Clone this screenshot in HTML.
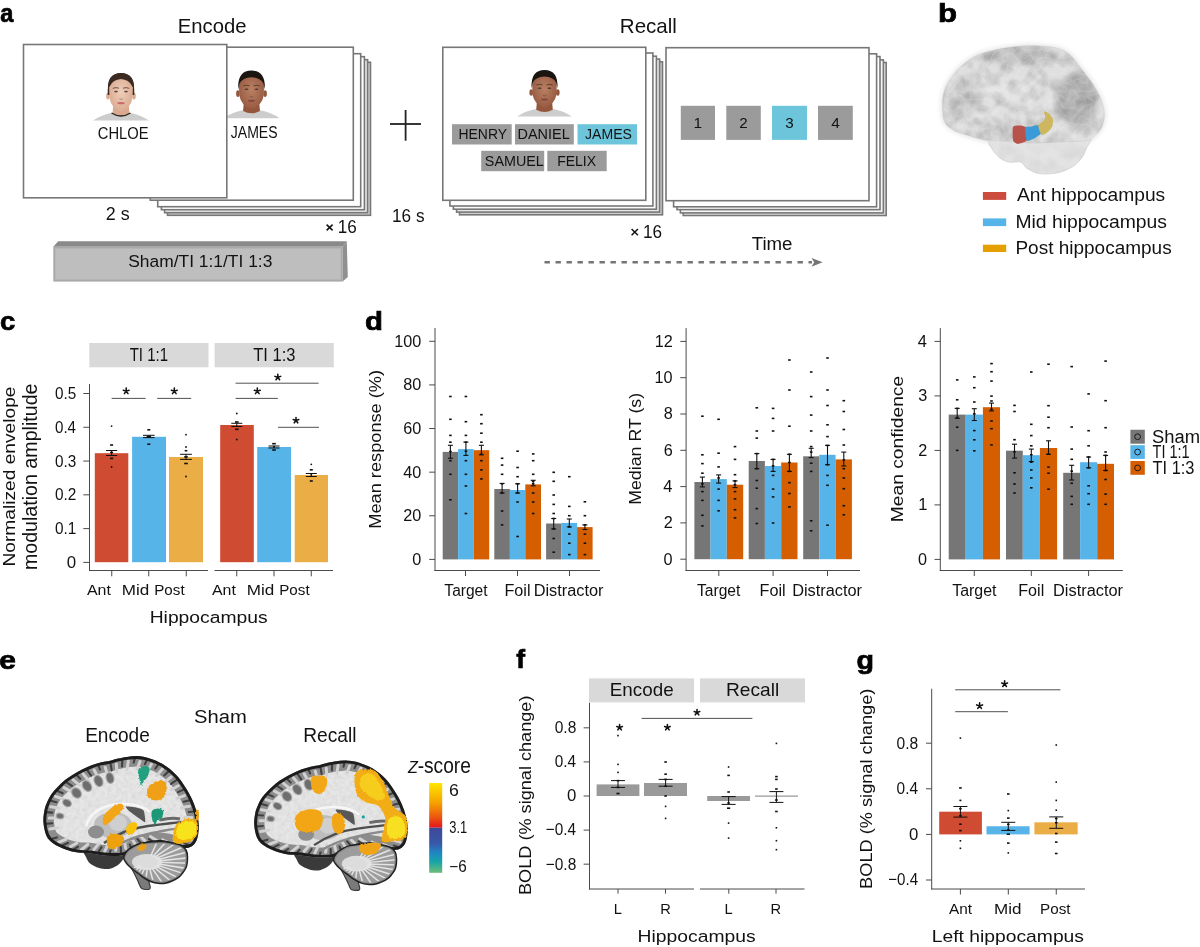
<!DOCTYPE html>
<html><head><meta charset="utf-8"><style>
html,body{margin:0;padding:0;background:#fff;width:1200px;height:947px;overflow:hidden}
svg{display:block;will-change:transform}
text{font-family:"Liberation Sans",sans-serif}
</style></head><body>
<svg width="1200" height="947" viewBox="0 0 1200 947">
<text x="0.26" y="21.85" font-size="25.80" font-weight="bold" font-style="normal" fill="#000" textLength="13.14" lengthAdjust="spacingAndGlyphs" stroke="#000" stroke-width="0.7">a</text>
<text x="177.74" y="33.00" font-size="20.49" font-weight="normal" font-style="normal" fill="#121212" textLength="68.76" lengthAdjust="spacingAndGlyphs">Encode</text>
<text x="619.82" y="33.00" font-size="20.06" font-weight="normal" font-style="normal" fill="#121212" textLength="57.06" lengthAdjust="spacingAndGlyphs">Recall</text>
<rect x="167.50" y="62.30" width="203.00" height="153.00" fill="#d2d2d2" stroke="#777" stroke-width="1.6"/>
<rect x="164.60" y="59.70" width="203.00" height="153.00" fill="#e8e8e8" stroke="#777" stroke-width="1.6"/>
<rect x="161.40" y="56.70" width="203.00" height="153.00" fill="#fff" stroke="#777" stroke-width="1.6"/>
<rect x="157.70" y="53.70" width="203.00" height="153.00" fill="#fff" stroke="#777" stroke-width="1.6"/>
<rect x="150.30" y="47.20" width="203.00" height="153.00" fill="#fff" stroke="#777" stroke-width="1.6"/>
<rect x="459.50" y="61.80" width="203.00" height="153.00" fill="#cfcfcf" stroke="#777" stroke-width="1.6"/>
<rect x="456.60" y="59.10" width="203.00" height="153.00" fill="#e6e6e6" stroke="#777" stroke-width="1.6"/>
<rect x="453.40" y="56.20" width="203.00" height="153.00" fill="#fafafa" stroke="#777" stroke-width="1.6"/>
<rect x="449.90" y="53.00" width="203.00" height="153.00" fill="#fff" stroke="#777" stroke-width="1.6"/>
<rect x="442.80" y="47.30" width="203.00" height="153.00" fill="#fff" stroke="#777" stroke-width="1.6"/>
<rect x="683.20" y="62.50" width="203.00" height="153.00" fill="#e4e4e4" stroke="#777" stroke-width="1.6"/>
<rect x="680.40" y="59.90" width="203.00" height="153.00" fill="#f4f4f4" stroke="#777" stroke-width="1.6"/>
<rect x="677.00" y="56.60" width="203.00" height="153.00" fill="#fff" stroke="#777" stroke-width="1.6"/>
<rect x="673.60" y="53.80" width="203.00" height="153.00" fill="#fff" stroke="#777" stroke-width="1.6"/>
<rect x="666.00" y="47.70" width="203.00" height="153.00" fill="#fff" stroke="#777" stroke-width="1.6"/>
<defs><radialGradient id="sk1" cx="0.5" cy="0.45" r="0.6"><stop offset="0" stop-color="#b98063"/><stop offset="1" stop-color="#94573e"/></radialGradient></defs>
<path d="M223.5,118.2 Q231.5,112.6 241.5,110.6 L261.5,110.6 Q271.5,112.6 279.5,118.2 Z" fill="#cdcdcd"/>
<path d="M244.0,100.6 L259.0,100.6 L260.0,111.1 Q251.5,115.6 243.0,111.1 Z" fill="#94573e"/>
<ellipse cx="237.9" cy="93.6" rx="1.8" ry="3.4" fill="#94573e"/>
<ellipse cx="265.1" cy="93.6" rx="1.8" ry="3.4" fill="#94573e"/>
<path d="M238.9,84.6 Q238.4,74.1 251.5,73.8 Q264.6,74.1 264.1,84.6 L263.7,95.6 Q261.9,105.6 251.5,109.6 Q241.1,105.6 239.3,95.6 Z" fill="url(#sk1)"/>
<path d="M238.2,89.6 Q237.2,70.6 251.5,70.6 Q265.8,70.6 264.8,89.6 L263.5,83.6 Q260.5,77.4 251.5,77.2 Q242.5,77.4 239.5,83.6 Z" fill="#1b1512"/>
<path d="M249.5,85.8 Q246.5,84.6 243.3,85.9" fill="none" stroke="#3a2a24" stroke-width="0.9" opacity="0.8"/>
<ellipse cx="246.5" cy="89.2" rx="1.9" ry="0.8" fill="#3a2c28" opacity="0.85"/>
<path d="M253.5,85.8 Q256.5,84.6 259.7,85.9" fill="none" stroke="#3a2a24" stroke-width="0.9" opacity="0.8"/>
<ellipse cx="256.5" cy="89.2" rx="1.9" ry="0.8" fill="#3a2c28" opacity="0.85"/>
<path d="M249.9,96.1 Q251.5,97.6 253.1,96.1" fill="none" stroke="#000" stroke-opacity="0.18" stroke-width="1.2"/>
<ellipse cx="251.5" cy="100.8" rx="3.6" ry="1.1" fill="#7a3f38" opacity="0.8"/>
<rect x="23.50" y="44.50" width="203.30" height="153.30" fill="#fff" stroke="#777" stroke-width="1.6"/>
<defs><radialGradient id="sk2" cx="0.5" cy="0.45" r="0.6"><stop offset="0" stop-color="#efcdb8"/><stop offset="1" stop-color="#d9a88e"/></radialGradient></defs>
<path d="M93.0,120.6 Q101.0,115.0 111.0,113.0 L131.0,113.0 Q141.0,115.0 149.0,120.6 Z" fill="#cdcdcd"/>
<path d="M113.5,103.0 L128.5,103.0 L129.5,113.5 Q121.0,118.0 112.5,113.5 Z" fill="#d9a88e"/>
<path d="M111.5,113.0 Q121.0,119.0 130.5,113.0" fill="none" stroke="#2a2420" stroke-width="1.3"/>
<ellipse cx="108.0" cy="96.0" rx="1.8" ry="3.4" fill="#d9a88e"/>
<ellipse cx="134.0" cy="96.0" rx="1.8" ry="3.4" fill="#d9a88e"/>
<path d="M107.8,95.0 Q106.5,73.5 121.0,73.0 Q135.5,73.5 134.2,95.0 L132.5,95.0 L109.5,95.0 Z" fill="#3b2a22"/>
<path d="M109.1,87.0 Q108.6,76.5 121.0,76.2 Q133.4,76.5 132.9,87.0 L132.5,98.0 Q130.7,108.0 121.0,112.0 Q111.3,108.0 109.5,98.0 Z" fill="url(#sk2)"/>
<path d="M108.0,89.0 Q107.0,73.5 121.0,73.0 Q135.0,73.5 134.0,89.0 L132.0,86.0 Q129.0,79.5 121.0,79.0 Q113.0,79.5 110.0,86.0 Z" fill="#3b2a22"/>
<path d="M119.0,88.2 Q116.0,87.0 112.8,88.3" fill="none" stroke="#3a2a24" stroke-width="0.9" opacity="0.8"/>
<ellipse cx="116.0" cy="91.6" rx="1.9" ry="0.8" fill="#3a2c28" opacity="0.85"/>
<path d="M123.0,88.2 Q126.0,87.0 129.2,88.3" fill="none" stroke="#3a2a24" stroke-width="0.9" opacity="0.8"/>
<ellipse cx="126.0" cy="91.6" rx="1.9" ry="0.8" fill="#3a2c28" opacity="0.85"/>
<path d="M119.4,98.5 Q121.0,100.0 122.6,98.5" fill="none" stroke="#000" stroke-opacity="0.18" stroke-width="1.2"/>
<ellipse cx="121.0" cy="103.2" rx="3.6" ry="1.1" fill="#c4545a" opacity="0.8"/>
<defs><radialGradient id="sk3" cx="0.5" cy="0.45" r="0.6"><stop offset="0" stop-color="#b98063"/><stop offset="1" stop-color="#94573e"/></radialGradient></defs>
<path d="M517.1,116.6 Q524.9,111.2 534.7,109.2 L554.3,109.2 Q564.1,111.2 571.9,116.6 Z" fill="#cdcdcd"/>
<path d="M537.1,99.4 L551.9,99.4 L552.8,109.7 Q544.5,114.1 536.2,109.7 Z" fill="#94573e"/>
<ellipse cx="531.2" cy="92.5" rx="1.8" ry="3.3" fill="#94573e"/>
<ellipse cx="557.8" cy="92.5" rx="1.8" ry="3.3" fill="#94573e"/>
<path d="M532.2,83.7 Q531.7,73.4 544.5,73.1 Q557.3,73.4 556.8,83.7 L556.5,94.5 Q554.7,104.3 544.5,108.2 Q534.3,104.3 532.5,94.5 Z" fill="url(#sk3)"/>
<path d="M531.5,88.6 Q530.5,70.0 544.5,70.0 Q558.5,70.0 557.5,88.6 L556.3,82.7 Q553.3,76.7 544.5,76.5 Q535.7,76.7 532.7,82.7 Z" fill="#1b1512"/>
<path d="M542.5,84.9 Q539.6,83.7 536.5,85.0" fill="none" stroke="#3a2a24" stroke-width="0.9" opacity="0.8"/>
<ellipse cx="539.6" cy="88.2" rx="1.9" ry="0.8" fill="#3a2c28" opacity="0.85"/>
<path d="M546.5,84.9 Q549.4,83.7 552.5,85.0" fill="none" stroke="#3a2a24" stroke-width="0.9" opacity="0.8"/>
<ellipse cx="549.4" cy="88.2" rx="1.9" ry="0.8" fill="#3a2c28" opacity="0.85"/>
<path d="M542.9,95.0 Q544.5,96.5 546.1,95.0" fill="none" stroke="#000" stroke-opacity="0.18" stroke-width="1.2"/>
<ellipse cx="544.5" cy="99.6" rx="3.5" ry="1.1" fill="#7a3f38" opacity="0.8"/>
<text x="97.75" y="138.90" font-size="15.75" font-weight="normal" font-style="normal" fill="#121212" textLength="50.78" lengthAdjust="spacingAndGlyphs">CHLOE</text>
<text x="230.78" y="138.10" font-size="15.61" font-weight="normal" font-style="normal" fill="#121212" textLength="46.86" lengthAdjust="spacingAndGlyphs">JAMES</text>
<rect x="452.00" y="124.20" width="59.70" height="20.30" fill="#9b9b9b"/>
<text x="458.56" y="138.70" font-size="15.12" font-weight="normal" font-style="normal" fill="#121212" textLength="48.44" lengthAdjust="spacingAndGlyphs">HENRY</text>
<rect x="515.00" y="124.20" width="58.80" height="20.30" fill="#9b9b9b"/>
<text x="517.52" y="138.70" font-size="15.12" font-weight="normal" font-style="normal" fill="#121212" textLength="52.16" lengthAdjust="spacingAndGlyphs">DANIEL</text>
<rect x="577.50" y="124.20" width="59.50" height="20.30" fill="#6cc5da"/>
<text x="585.08" y="138.70" font-size="14.89" font-weight="normal" font-style="normal" fill="#121212" textLength="46.86" lengthAdjust="spacingAndGlyphs">JAMES</text>
<rect x="481.20" y="150.80" width="63.00" height="20.40" fill="#9b9b9b"/>
<text x="484.85" y="166.30" font-size="14.89" font-weight="normal" font-style="normal" fill="#121212" textLength="58.93" lengthAdjust="spacingAndGlyphs">SAMUEL</text>
<rect x="547.30" y="150.80" width="59.40" height="20.40" fill="#9b9b9b"/>
<text x="557.15" y="166.30" font-size="15.12" font-weight="normal" font-style="normal" fill="#121212" textLength="38.94" lengthAdjust="spacingAndGlyphs">FELIX</text>
<rect x="680.80" y="105.80" width="34.20" height="34.10" fill="#9b9b9b"/>
<text x="693.40" y="128.20" font-size="15.41" font-weight="normal" font-style="normal" fill="#121212">1</text>
<rect x="726.30" y="105.80" width="34.50" height="34.10" fill="#9b9b9b"/>
<text x="739.33" y="128.20" font-size="15.18" font-weight="normal" font-style="normal" fill="#121212">2</text>
<rect x="772.00" y="105.80" width="35.00" height="34.10" fill="#6cc5da"/>
<text x="785.32" y="128.20" font-size="15.18" font-weight="normal" font-style="normal" fill="#121212">3</text>
<rect x="818.00" y="105.80" width="34.80" height="34.10" fill="#9b9b9b"/>
<text x="831.16" y="128.20" font-size="15.41" font-weight="normal" font-style="normal" fill="#121212">4</text>
<line x1="390.00" y1="124.00" x2="421.00" y2="124.00" stroke="#222" stroke-width="1.8"/>
<line x1="405.60" y1="110.00" x2="405.60" y2="140.70" stroke="#222" stroke-width="1.8"/>
<text x="105.80" y="220.30" font-size="17.62" font-weight="normal" font-style="normal" fill="#121212" textLength="23.84" lengthAdjust="spacingAndGlyphs">2 s</text>
<text x="391.99" y="222.00" font-size="17.62" font-weight="normal" font-style="normal" fill="#121212" textLength="32.53" lengthAdjust="spacingAndGlyphs">16 s</text>
<line x1="326.60" y1="224.60" x2="332.60" y2="230.40" stroke="#121212" stroke-width="1.5"/>
<line x1="332.60" y1="224.60" x2="326.60" y2="230.40" stroke="#121212" stroke-width="1.5"/>
<text x="337.69" y="233.30" font-size="18.62" font-weight="normal" font-style="normal" fill="#121212" textLength="19.06" lengthAdjust="spacingAndGlyphs">16</text>
<line x1="631.60" y1="229.00" x2="637.90" y2="235.30" stroke="#121212" stroke-width="1.5"/>
<line x1="637.90" y1="229.00" x2="631.60" y2="235.30" stroke="#121212" stroke-width="1.5"/>
<text x="642.89" y="238.30" font-size="18.47" font-weight="normal" font-style="normal" fill="#121212" textLength="19.06" lengthAdjust="spacingAndGlyphs">16</text>
<text x="751.69" y="250.00" font-size="18.75" font-weight="normal" font-style="normal" fill="#121212" textLength="40.83" lengthAdjust="spacingAndGlyphs">Time</text>
<line x1="544.5" y1="262.3" x2="812" y2="262.3" stroke="#757575" stroke-width="2.6" stroke-dasharray="5.4 5.6"/>
<path d="M811.5,257.9 L822.6,262.35 L811.5,266.8 L814.2,262.35 Z" fill="#757575"/>
<path d="M53.3,246.7 L58.2,241.3 L346.8,241.3 L342.7,246.7 Z" fill="#8a8a8a"/>
<path d="M342.7,246.7 L346.8,241.3 L347.8,277.0 L342.7,281.6 Z" fill="#909090"/>
<rect x="54.30" y="247.50" width="287.50" height="33.10" fill="#bebebe" stroke="#a9a9a9" stroke-width="2"/>
<text x="128.21" y="266.70" font-size="17.19" font-weight="normal" font-style="normal" fill="#121212" textLength="144.16" lengthAdjust="spacingAndGlyphs">Sham/TI 1:1/TI 1:3</text>
<text x="937.90" y="22.25" font-size="25.80" font-weight="bold" font-style="normal" fill="#000" textLength="19.03" lengthAdjust="spacingAndGlyphs" stroke="#000" stroke-width="0.7">b</text>
<defs><clipPath id="b3c"><path d="M944.2,120.7 C942.4,115.8 942.5,106.2 942.7,100.8 C942.9,95.3 944.2,91.6 945.5,88.0 C946.8,84.4 948.4,82.1 950.5,79.0 C952.6,75.9 955.3,72.3 958.0,69.5 C960.7,66.7 963.7,64.2 966.5,62.0 C969.3,59.8 971.6,58.2 975.0,56.5 C978.4,54.8 981.9,53.4 987.0,52.0 C992.1,50.6 999.3,49.0 1005.4,48.0 C1011.5,47.0 1017.7,46.3 1023.8,46.0 C1029.9,45.7 1036.4,45.8 1042.1,46.2 C1047.8,46.6 1053.3,47.0 1058.0,48.5 C1062.7,50.0 1066.2,51.8 1070.0,55.0 C1073.8,58.2 1077.2,63.8 1080.5,68.0 C1083.8,72.2 1087.1,75.8 1090.0,80.0 C1092.9,84.2 1095.8,88.7 1098.0,93.0 C1100.2,97.3 1102.0,102.0 1103.0,106.0 C1104.0,110.0 1104.4,113.3 1104.1,117.0 C1103.8,120.7 1102.8,125.2 1101.1,128.4 C1099.4,131.6 1096.6,134.0 1094.2,136.0 C1091.8,138.0 1092.2,139.6 1086.5,140.6 C1080.8,141.6 1069.4,141.6 1060.0,142.0 C1050.6,142.4 1040.0,143.2 1030.0,143.0 C1020.0,142.8 1006.9,141.4 1000.0,141.0 C993.1,140.6 991.8,140.9 988.6,140.6 C985.4,140.3 984.7,140.1 980.9,139.1 C977.1,138.1 970.2,136.0 965.6,134.5 C961.0,133.0 957.0,132.2 953.4,129.9 C949.8,127.6 946.0,125.6 944.2,120.7 Z"/></clipPath><clipPath id="b3l"><path d="M1092.0,136.0 C1093.1,138.7 1088.2,144.7 1086.5,148.3 C1084.8,151.9 1084.3,154.4 1082.0,157.5 C1079.7,160.6 1076.9,164.0 1072.8,166.6 C1068.7,169.2 1063.1,171.7 1057.5,172.8 C1051.9,174.0 1044.2,174.3 1039.1,173.5 C1034.0,172.7 1029.9,170.1 1026.8,168.2 C1023.7,166.3 1023.8,163.0 1020.7,162.0 C1017.7,161.0 1012.1,162.8 1008.5,162.0 C1004.9,161.2 1002.1,159.8 999.3,157.5 C996.5,155.2 993.4,151.1 991.6,148.3 C989.8,145.5 987.2,142.7 988.6,140.6 C990.0,138.5 991.4,136.4 1000.0,136.0 C1008.6,135.6 1026.7,138.7 1040.0,138.0 C1053.3,137.3 1071.3,132.3 1080.0,132.0 C1088.7,131.7 1090.9,133.3 1092.0,136.0 Z"/></clipPath>
<filter id="mot" x="0" y="0" width="100%" height="100%" color-interpolation-filters="sRGB">
<feTurbulence type="fractalNoise" baseFrequency="0.075" numOctaves="2" seed="11"/>
<feColorMatrix type="matrix" values="0 0 0 0 0.2  0 0 0 0 0.2  0 0 0 0 0.2  0.5 0 0 0 -0.19"/>
</filter>
<filter id="rid" x="0" y="0" width="100%" height="100%" color-interpolation-filters="sRGB">
<feTurbulence type="turbulence" baseFrequency="0.12" numOctaves="1" seed="5"/>
<feColorMatrix type="matrix" values="0 0 0 0 1  0 0 0 0 1  0 0 0 0 1  -2.0 0 0 0 0.32"/>
</filter>
<filter id="bl1"><feGaussianBlur stdDeviation="2.5"/></filter>
</defs>
<path d="M1092.0,136.0 C1093.1,138.7 1088.2,144.7 1086.5,148.3 C1084.8,151.9 1084.3,154.4 1082.0,157.5 C1079.7,160.6 1076.9,164.0 1072.8,166.6 C1068.7,169.2 1063.1,171.7 1057.5,172.8 C1051.9,174.0 1044.2,174.3 1039.1,173.5 C1034.0,172.7 1029.9,170.1 1026.8,168.2 C1023.7,166.3 1023.8,163.0 1020.7,162.0 C1017.7,161.0 1012.1,162.8 1008.5,162.0 C1004.9,161.2 1002.1,159.8 999.3,157.5 C996.5,155.2 993.4,151.1 991.6,148.3 C989.8,145.5 987.2,142.7 988.6,140.6 C990.0,138.5 991.4,136.4 1000.0,136.0 C1008.6,135.6 1026.7,138.7 1040.0,138.0 C1053.3,137.3 1071.3,132.3 1080.0,132.0 C1088.7,131.7 1090.9,133.3 1092.0,136.0 Z" fill="#e3e3e3" stroke="#d0d0d0" stroke-width="0.8"/>
<g clip-path="url(#b3l)"><rect x="985" y="130" width="110" height="46" filter="url(#mot)" opacity="0.25"/></g>
<path d="M944.2,120.7 C942.4,115.8 942.5,106.2 942.7,100.8 C942.9,95.3 944.2,91.6 945.5,88.0 C946.8,84.4 948.4,82.1 950.5,79.0 C952.6,75.9 955.3,72.3 958.0,69.5 C960.7,66.7 963.7,64.2 966.5,62.0 C969.3,59.8 971.6,58.2 975.0,56.5 C978.4,54.8 981.9,53.4 987.0,52.0 C992.1,50.6 999.3,49.0 1005.4,48.0 C1011.5,47.0 1017.7,46.3 1023.8,46.0 C1029.9,45.7 1036.4,45.8 1042.1,46.2 C1047.8,46.6 1053.3,47.0 1058.0,48.5 C1062.7,50.0 1066.2,51.8 1070.0,55.0 C1073.8,58.2 1077.2,63.8 1080.5,68.0 C1083.8,72.2 1087.1,75.8 1090.0,80.0 C1092.9,84.2 1095.8,88.7 1098.0,93.0 C1100.2,97.3 1102.0,102.0 1103.0,106.0 C1104.0,110.0 1104.4,113.3 1104.1,117.0 C1103.8,120.7 1102.8,125.2 1101.1,128.4 C1099.4,131.6 1096.6,134.0 1094.2,136.0 C1091.8,138.0 1092.2,139.6 1086.5,140.6 C1080.8,141.6 1069.4,141.6 1060.0,142.0 C1050.6,142.4 1040.0,143.2 1030.0,143.0 C1020.0,142.8 1006.9,141.4 1000.0,141.0 C993.1,140.6 991.8,140.9 988.6,140.6 C985.4,140.3 984.7,140.1 980.9,139.1 C977.1,138.1 970.2,136.0 965.6,134.5 C961.0,133.0 957.0,132.2 953.4,129.9 C949.8,127.6 946.0,125.6 944.2,120.7 Z" fill="#e2e2e2" stroke="#e4e4e4" stroke-width="3" filter="url(#bl1)"/>
<path d="M944.2,120.7 C942.4,115.8 942.5,106.2 942.7,100.8 C942.9,95.3 944.2,91.6 945.5,88.0 C946.8,84.4 948.4,82.1 950.5,79.0 C952.6,75.9 955.3,72.3 958.0,69.5 C960.7,66.7 963.7,64.2 966.5,62.0 C969.3,59.8 971.6,58.2 975.0,56.5 C978.4,54.8 981.9,53.4 987.0,52.0 C992.1,50.6 999.3,49.0 1005.4,48.0 C1011.5,47.0 1017.7,46.3 1023.8,46.0 C1029.9,45.7 1036.4,45.8 1042.1,46.2 C1047.8,46.6 1053.3,47.0 1058.0,48.5 C1062.7,50.0 1066.2,51.8 1070.0,55.0 C1073.8,58.2 1077.2,63.8 1080.5,68.0 C1083.8,72.2 1087.1,75.8 1090.0,80.0 C1092.9,84.2 1095.8,88.7 1098.0,93.0 C1100.2,97.3 1102.0,102.0 1103.0,106.0 C1104.0,110.0 1104.4,113.3 1104.1,117.0 C1103.8,120.7 1102.8,125.2 1101.1,128.4 C1099.4,131.6 1096.6,134.0 1094.2,136.0 C1091.8,138.0 1092.2,139.6 1086.5,140.6 C1080.8,141.6 1069.4,141.6 1060.0,142.0 C1050.6,142.4 1040.0,143.2 1030.0,143.0 C1020.0,142.8 1006.9,141.4 1000.0,141.0 C993.1,140.6 991.8,140.9 988.6,140.6 C985.4,140.3 984.7,140.1 980.9,139.1 C977.1,138.1 970.2,136.0 965.6,134.5 C961.0,133.0 957.0,132.2 953.4,129.9 C949.8,127.6 946.0,125.6 944.2,120.7 Z" fill="#dfdfdf" stroke="#d6d6d6" stroke-width="1"/>
<g clip-path="url(#b3c)">
<g filter="url(#bl1)">
<ellipse cx="1078" cy="100" rx="20" ry="28" fill="#a8a8a8" opacity="0.7"/>
<ellipse cx="1020" cy="55" rx="38" ry="10" fill="#b0b0b0" opacity="0.5"/>
<ellipse cx="962" cy="100" rx="14" ry="22" fill="#b8b8b8" opacity="0.4"/>
<ellipse cx="1005" cy="92" rx="24" ry="9" fill="#e6e6e6" opacity="0.8"/>
<ellipse cx="1040" cy="102" rx="16" ry="6" fill="#e4e4e4" opacity="0.7"/>
<ellipse cx="985" cy="112" rx="12" ry="5" fill="#e2e2e2" opacity="0.7"/>
<ellipse cx="1000" cy="133" rx="22" ry="6" fill="#c4c4c4" opacity="0.6"/>
</g>
<rect x="940" y="42" width="168" height="104" filter="url(#mot)"/>
<rect x="940" y="42" width="168" height="104" filter="url(#rid)" opacity="0.45"/>
</g>
<path d="M1013.1,126.8 C1013.9,125.3 1019.3,125.4 1020.7,125.6 C1022.1,125.8 1026.2,126.9 1026.8,128.4 C1027.4,129.9 1027.7,139.0 1026.8,140.6 C1025.9,142.2 1019.1,144.0 1017.7,144.0 C1016.3,144.0 1013.6,142.3 1013.1,140.6 C1012.6,138.9 1012.3,128.3 1013.1,126.8 Z" fill="#b8534b"/>
<path d="M1025.3,127.8 C1025.8,126.4 1030.6,126.8 1032.0,126.5 C1033.4,126.2 1038.2,124.6 1039.1,125.3 C1040.0,126.0 1041.9,131.7 1041.4,133.0 C1040.9,134.3 1036.0,137.5 1034.5,138.3 C1033.0,139.1 1027.7,141.7 1026.8,140.6 C1025.9,139.5 1024.8,129.2 1025.3,127.8 Z" fill="#3a9bd8"/>
<path d="M1038.3,125.3 C1038.6,123.5 1042.6,122.1 1043.5,121.0 C1044.4,119.9 1045.1,118.3 1045.2,117.0 C1045.3,115.7 1043.6,112.0 1044.0,111.5 C1044.4,111.0 1047.1,112.1 1048.3,113.1 C1049.5,114.1 1052.4,117.4 1052.9,119.2 C1053.4,121.0 1052.9,125.0 1052.1,126.8 C1051.3,128.6 1048.1,132.0 1046.7,133.0 C1045.3,134.0 1042.5,135.5 1041.4,134.5 C1040.3,133.5 1038.0,127.1 1038.3,125.3 Z" fill="#cdb860"/>
<rect x="982.90" y="192.00" width="23.30" height="7.90" fill="#cd4b3d"/>
<text x="1016.96" y="201.25" font-size="18.75" font-weight="normal" font-style="normal" fill="#121212" textLength="148.23" lengthAdjust="spacingAndGlyphs">Ant hippocampus</text>
<rect x="982.90" y="218.40" width="23.30" height="7.70" fill="#56b4e9"/>
<text x="1015.41" y="227.50" font-size="18.75" font-weight="normal" font-style="normal" fill="#121212" textLength="151.59" lengthAdjust="spacingAndGlyphs">Mid hippocampus</text>
<rect x="982.90" y="244.70" width="23.30" height="7.30" fill="#e69f00"/>
<text x="1015.44" y="253.75" font-size="18.75" font-weight="normal" font-style="normal" fill="#121212" textLength="156.24" lengthAdjust="spacingAndGlyphs">Post hippocampus</text>
<text x="-0.12" y="329.85" font-size="25.80" font-weight="bold" font-style="normal" fill="#000" textLength="15.28" lengthAdjust="spacingAndGlyphs" stroke="#000" stroke-width="0.7">c</text>
<rect x="89.30" y="343.00" width="119.20" height="24.30" fill="#d9d9d9"/>
<rect x="214.60" y="343.00" width="119.20" height="24.30" fill="#d9d9d9"/>
<text x="129.66" y="360.75" font-size="18.10" font-weight="normal" font-style="normal" fill="#121212" textLength="38.37" lengthAdjust="spacingAndGlyphs">TI 1:1</text>
<text x="253.23" y="360.75" font-size="17.83" font-weight="normal" font-style="normal" fill="#121212" textLength="42.20" lengthAdjust="spacingAndGlyphs">TI 1:3</text>
<line x1="89.50" y1="384.00" x2="89.50" y2="571.00" stroke="#4a4a4a" stroke-width="1.0"/>
<line x1="89.00" y1="570.50" x2="208.00" y2="570.50" stroke="#4a4a4a" stroke-width="1.0"/>
<line x1="214.50" y1="570.50" x2="333.00" y2="570.50" stroke="#4a4a4a" stroke-width="1.0"/>
<line x1="83.30" y1="393.50" x2="89.50" y2="393.50" stroke="#4a4a4a" stroke-width="1.0"/>
<text x="55.00" y="399.00" font-size="16.90" font-weight="normal" font-style="normal" fill="#121212" textLength="21.24" lengthAdjust="spacingAndGlyphs">0.5</text>
<line x1="83.30" y1="427.28" x2="89.50" y2="427.28" stroke="#4a4a4a" stroke-width="1.0"/>
<text x="55.01" y="432.78" font-size="16.90" font-weight="normal" font-style="normal" fill="#121212" textLength="21.03" lengthAdjust="spacingAndGlyphs">0.4</text>
<line x1="83.30" y1="461.06" x2="89.50" y2="461.06" stroke="#4a4a4a" stroke-width="1.0"/>
<text x="55.00" y="466.56" font-size="16.90" font-weight="normal" font-style="normal" fill="#121212" textLength="21.27" lengthAdjust="spacingAndGlyphs">0.3</text>
<line x1="83.30" y1="494.84" x2="89.50" y2="494.84" stroke="#4a4a4a" stroke-width="1.0"/>
<text x="55.00" y="500.34" font-size="16.90" font-weight="normal" font-style="normal" fill="#121212" textLength="21.37" lengthAdjust="spacingAndGlyphs">0.2</text>
<line x1="83.30" y1="528.62" x2="89.50" y2="528.62" stroke="#4a4a4a" stroke-width="1.0"/>
<text x="55.00" y="534.12" font-size="16.90" font-weight="normal" font-style="normal" fill="#121212" textLength="21.35" lengthAdjust="spacingAndGlyphs">0.1</text>
<line x1="83.30" y1="562.40" x2="89.50" y2="562.40" stroke="#4a4a4a" stroke-width="1.0"/>
<text x="66.86" y="567.90" font-size="16.90" font-weight="normal" font-style="normal" fill="#121212" textLength="9.40" lengthAdjust="spacingAndGlyphs">0</text>
<rect x="94.80" y="453.20" width="33.50" height="109.00" fill="#cf4b31"/>
<rect x="132.10" y="436.80" width="33.90" height="125.40" fill="#57b4e8"/>
<rect x="169.00" y="457.00" width="34.00" height="105.20" fill="#ebae46"/>
<rect x="220.20" y="425.00" width="33.60" height="137.20" fill="#cf4b31"/>
<rect x="257.20" y="447.00" width="33.80" height="115.20" fill="#57b4e8"/>
<rect x="294.70" y="475.00" width="33.30" height="87.20" fill="#ebae46"/>
<line x1="106.00" y1="450.50" x2="117.20" y2="450.50" stroke="#111" stroke-width="1.0"/>
<line x1="106.00" y1="455.50" x2="117.20" y2="455.50" stroke="#111" stroke-width="1.0"/>
<line x1="111.60" y1="450.50" x2="111.60" y2="455.50" stroke="#111" stroke-width="1.0"/>
<circle cx="111.60" cy="426.10" r="0.9" fill="#111"/>
<rect x="110.10" y="444.20" width="3.00" height="1.6" fill="#111"/>
<rect x="110.10" y="451.70" width="3.00" height="1.6" fill="#111"/>
<rect x="110.00" y="457.60" width="3.20" height="1.6" fill="#111"/>
<circle cx="111.60" cy="467.00" r="0.9" fill="#111"/>
<line x1="143.00" y1="435.30" x2="154.60" y2="435.30" stroke="#111" stroke-width="1.0"/>
<line x1="143.00" y1="437.60" x2="154.60" y2="437.60" stroke="#111" stroke-width="1.0"/>
<line x1="148.80" y1="435.30" x2="148.80" y2="437.60" stroke="#111" stroke-width="1.0"/>
<rect x="147.30" y="429.00" width="3.00" height="1.6" fill="#111"/>
<rect x="146.60" y="435.80" width="4.40" height="1.6" fill="#111"/>
<rect x="147.30" y="443.40" width="3.00" height="1.6" fill="#111"/>
<line x1="180.10" y1="454.30" x2="191.90" y2="454.30" stroke="#111" stroke-width="1.0"/>
<line x1="180.10" y1="459.40" x2="191.90" y2="459.40" stroke="#111" stroke-width="1.0"/>
<line x1="186.00" y1="454.30" x2="186.00" y2="459.40" stroke="#111" stroke-width="1.0"/>
<circle cx="186.00" cy="434.70" r="0.9" fill="#111"/>
<circle cx="186.00" cy="447.00" r="0.9" fill="#111"/>
<rect x="184.70" y="449.90" width="2.60" height="1.6" fill="#111"/>
<rect x="184.20" y="456.10" width="3.60" height="1.6" fill="#111"/>
<rect x="184.20" y="462.70" width="3.60" height="1.6" fill="#111"/>
<circle cx="186.00" cy="476.50" r="0.9" fill="#111"/>
<line x1="231.30" y1="423.30" x2="242.30" y2="423.30" stroke="#111" stroke-width="1.0"/>
<line x1="231.30" y1="426.50" x2="242.30" y2="426.50" stroke="#111" stroke-width="1.0"/>
<line x1="236.80" y1="423.30" x2="236.80" y2="426.50" stroke="#111" stroke-width="1.0"/>
<circle cx="236.80" cy="413.50" r="0.9" fill="#111"/>
<rect x="235.00" y="421.20" width="3.60" height="1.6" fill="#111"/>
<rect x="235.00" y="428.50" width="3.60" height="1.6" fill="#111"/>
<circle cx="236.80" cy="439.50" r="0.9" fill="#111"/>
<line x1="268.50" y1="446.00" x2="279.50" y2="446.00" stroke="#111" stroke-width="1.0"/>
<line x1="268.50" y1="448.00" x2="279.50" y2="448.00" stroke="#111" stroke-width="1.0"/>
<line x1="274.00" y1="446.00" x2="274.00" y2="448.00" stroke="#111" stroke-width="1.0"/>
<rect x="272.20" y="442.90" width="3.60" height="1.6" fill="#111"/>
<circle cx="274.00" cy="446.70" r="0.9" fill="#111"/>
<rect x="272.20" y="449.20" width="3.60" height="1.6" fill="#111"/>
<line x1="305.80" y1="473.50" x2="316.80" y2="473.50" stroke="#111" stroke-width="1.0"/>
<line x1="305.80" y1="476.50" x2="316.80" y2="476.50" stroke="#111" stroke-width="1.0"/>
<line x1="311.30" y1="473.50" x2="311.30" y2="476.50" stroke="#111" stroke-width="1.0"/>
<circle cx="311.30" cy="464.30" r="0.9" fill="#111"/>
<rect x="309.80" y="469.00" width="3.00" height="1.6" fill="#111"/>
<circle cx="311.30" cy="474.80" r="0.9" fill="#111"/>
<rect x="309.80" y="480.20" width="3.00" height="1.6" fill="#111"/>
<line x1="111.75" y1="570.50" x2="111.75" y2="576.30" stroke="#4a4a4a" stroke-width="1.0"/>
<line x1="148.75" y1="570.50" x2="148.75" y2="576.30" stroke="#4a4a4a" stroke-width="1.0"/>
<line x1="186.25" y1="570.50" x2="186.25" y2="576.30" stroke="#4a4a4a" stroke-width="1.0"/>
<line x1="236.75" y1="570.50" x2="236.75" y2="576.30" stroke="#4a4a4a" stroke-width="1.0"/>
<line x1="274.00" y1="570.50" x2="274.00" y2="576.30" stroke="#4a4a4a" stroke-width="1.0"/>
<line x1="311.25" y1="570.50" x2="311.25" y2="576.30" stroke="#4a4a4a" stroke-width="1.0"/>
<text x="86.97" y="595.00" font-size="14.54" font-weight="normal" font-style="normal" fill="#121212" textLength="23.90" lengthAdjust="spacingAndGlyphs">Ant</text>
<text x="121.85" y="595.00" font-size="14.54" font-weight="normal" font-style="normal" fill="#121212" textLength="27.50" lengthAdjust="spacingAndGlyphs">Mid</text>
<text x="154.26" y="595.00" font-size="14.54" font-weight="normal" font-style="normal" fill="#121212" textLength="30.36" lengthAdjust="spacingAndGlyphs">Post</text>
<text x="211.97" y="595.00" font-size="14.54" font-weight="normal" font-style="normal" fill="#121212" textLength="23.90" lengthAdjust="spacingAndGlyphs">Ant</text>
<text x="246.85" y="595.00" font-size="14.54" font-weight="normal" font-style="normal" fill="#121212" textLength="27.50" lengthAdjust="spacingAndGlyphs">Mid</text>
<text x="279.26" y="595.00" font-size="14.54" font-weight="normal" font-style="normal" fill="#121212" textLength="30.36" lengthAdjust="spacingAndGlyphs">Post</text>
<text x="149.67" y="623.00" font-size="17.08" font-weight="normal" font-style="normal" fill="#121212" textLength="118.03" lengthAdjust="spacingAndGlyphs">Hippocampus</text>
<text transform="translate(15.20,565.00) rotate(-90)" x="-1.57" y="0" font-size="16.84" fill="#121212" textLength="180.02" lengthAdjust="spacingAndGlyphs">Normalized envelope</text>
<text transform="translate(37.00,568.80) rotate(-90)" x="-1.30" y="0" font-size="19.60" fill="#121212" textLength="186.58" lengthAdjust="spacingAndGlyphs">modulation amplitude</text>
<line x1="111.65" y1="398.40" x2="145.70" y2="398.40" stroke="#505050" stroke-width="1.0"/>
<path d="M126.20,391.13 L126.20,388.07 M126.20,391.13 L129.11,390.18 M126.20,391.13 L128.00,393.60 M126.20,391.13 L124.40,393.60 M126.20,391.13 L123.29,390.18 " stroke="#111" stroke-width="1.55" stroke-linecap="round" fill="none"/>
<line x1="157.20" y1="398.40" x2="191.20" y2="398.40" stroke="#505050" stroke-width="1.0"/>
<path d="M174.30,391.13 L174.30,388.07 M174.30,391.13 L177.21,390.18 M174.30,391.13 L176.10,393.60 M174.30,391.13 L172.50,393.60 M174.30,391.13 L171.39,390.18 " stroke="#111" stroke-width="1.55" stroke-linecap="round" fill="none"/>
<line x1="235.60" y1="398.40" x2="277.80" y2="398.40" stroke="#505050" stroke-width="1.0"/>
<path d="M257.30,391.13 L257.30,388.07 M257.30,391.13 L260.21,390.18 M257.30,391.13 L259.10,393.60 M257.30,391.13 L255.50,393.60 M257.30,391.13 L254.39,390.18 " stroke="#111" stroke-width="1.55" stroke-linecap="round" fill="none"/>
<line x1="235.60" y1="383.20" x2="318.60" y2="383.20" stroke="#505050" stroke-width="1.0"/>
<path d="M277.80,377.33 L277.80,374.27 M277.80,377.33 L280.71,376.38 M277.80,377.33 L279.60,379.80 M277.80,377.33 L276.00,379.80 M277.80,377.33 L274.89,376.38 " stroke="#111" stroke-width="1.55" stroke-linecap="round" fill="none"/>
<line x1="278.00" y1="427.30" x2="319.00" y2="427.30" stroke="#505050" stroke-width="1.0"/>
<path d="M296.00,420.43 L296.00,417.47 M296.00,420.43 L298.81,419.52 M296.00,420.43 L297.74,422.82 M296.00,420.43 L294.26,422.82 M296.00,420.43 L293.19,419.52 " stroke="#111" stroke-width="1.55" stroke-linecap="round" fill="none"/>
<text x="365.05" y="329.65" font-size="25.80" font-weight="bold" font-style="normal" fill="#000" textLength="17.94" lengthAdjust="spacingAndGlyphs" stroke="#000" stroke-width="0.7">d</text>
<line x1="435.00" y1="328.00" x2="435.00" y2="571.00" stroke="#4a4a4a" stroke-width="1.0"/>
<line x1="434.50" y1="570.50" x2="600.00" y2="570.50" stroke="#4a4a4a" stroke-width="1.0"/>
<line x1="429.20" y1="341.30" x2="435.00" y2="341.30" stroke="#4a4a4a" stroke-width="1.0"/>
<text x="394.17" y="346.70" font-size="16.90" font-weight="normal" font-style="normal" fill="#121212" textLength="27.07" lengthAdjust="spacingAndGlyphs">100</text>
<line x1="429.20" y1="384.92" x2="435.00" y2="384.92" stroke="#4a4a4a" stroke-width="1.0"/>
<text x="403.19" y="390.32" font-size="16.90" font-weight="normal" font-style="normal" fill="#121212" textLength="18.05" lengthAdjust="spacingAndGlyphs">80</text>
<line x1="429.20" y1="428.54" x2="435.00" y2="428.54" stroke="#4a4a4a" stroke-width="1.0"/>
<text x="403.19" y="433.94" font-size="16.90" font-weight="normal" font-style="normal" fill="#121212" textLength="18.05" lengthAdjust="spacingAndGlyphs">60</text>
<line x1="429.20" y1="472.16" x2="435.00" y2="472.16" stroke="#4a4a4a" stroke-width="1.0"/>
<text x="403.19" y="477.56" font-size="16.90" font-weight="normal" font-style="normal" fill="#121212" textLength="18.05" lengthAdjust="spacingAndGlyphs">40</text>
<line x1="429.20" y1="515.78" x2="435.00" y2="515.78" stroke="#4a4a4a" stroke-width="1.0"/>
<text x="403.19" y="521.18" font-size="16.90" font-weight="normal" font-style="normal" fill="#121212" textLength="18.05" lengthAdjust="spacingAndGlyphs">20</text>
<line x1="429.20" y1="559.40" x2="435.00" y2="559.40" stroke="#4a4a4a" stroke-width="1.0"/>
<text x="412.21" y="564.80" font-size="16.90" font-weight="normal" font-style="normal" fill="#121212" textLength="9.02" lengthAdjust="spacingAndGlyphs">0</text>
<rect x="442.70" y="451.90" width="15.40" height="107.50" fill="#767676"/>
<rect x="458.10" y="449.10" width="15.60" height="110.30" fill="#57b4e8"/>
<rect x="473.70" y="450.20" width="15.50" height="109.20" fill="#d55e00"/>
<rect x="494.30" y="489.00" width="15.60" height="70.40" fill="#767676"/>
<rect x="509.90" y="490.00" width="15.40" height="69.40" fill="#57b4e8"/>
<rect x="525.30" y="484.40" width="15.70" height="75.00" fill="#d55e00"/>
<rect x="546.10" y="523.50" width="15.30" height="35.90" fill="#767676"/>
<rect x="561.40" y="522.90" width="15.70" height="36.50" fill="#57b4e8"/>
<rect x="577.10" y="527.10" width="15.50" height="32.30" fill="#d55e00"/>
<line x1="447.90" y1="445.30" x2="452.90" y2="445.30" stroke="#111" stroke-width="1.1"/>
<line x1="447.90" y1="458.30" x2="452.90" y2="458.30" stroke="#111" stroke-width="1.1"/>
<line x1="450.40" y1="445.30" x2="450.40" y2="458.30" stroke="#111" stroke-width="1.1"/>
<line x1="463.40" y1="442.10" x2="468.40" y2="442.10" stroke="#111" stroke-width="1.1"/>
<line x1="463.40" y1="455.40" x2="468.40" y2="455.40" stroke="#111" stroke-width="1.1"/>
<line x1="465.90" y1="442.10" x2="465.90" y2="455.40" stroke="#111" stroke-width="1.1"/>
<line x1="478.90" y1="445.30" x2="483.90" y2="445.30" stroke="#111" stroke-width="1.1"/>
<line x1="478.90" y1="454.80" x2="483.90" y2="454.80" stroke="#111" stroke-width="1.1"/>
<line x1="481.40" y1="445.30" x2="481.40" y2="454.80" stroke="#111" stroke-width="1.1"/>
<line x1="499.60" y1="483.40" x2="504.60" y2="483.40" stroke="#111" stroke-width="1.1"/>
<line x1="499.60" y1="493.00" x2="504.60" y2="493.00" stroke="#111" stroke-width="1.1"/>
<line x1="502.10" y1="483.40" x2="502.10" y2="493.00" stroke="#111" stroke-width="1.1"/>
<line x1="515.10" y1="483.80" x2="520.10" y2="483.80" stroke="#111" stroke-width="1.1"/>
<line x1="515.10" y1="493.00" x2="520.10" y2="493.00" stroke="#111" stroke-width="1.1"/>
<line x1="517.60" y1="483.80" x2="517.60" y2="493.00" stroke="#111" stroke-width="1.1"/>
<line x1="530.70" y1="480.30" x2="535.70" y2="480.30" stroke="#111" stroke-width="1.1"/>
<line x1="530.70" y1="485.80" x2="535.70" y2="485.80" stroke="#111" stroke-width="1.1"/>
<line x1="533.20" y1="480.30" x2="533.20" y2="485.80" stroke="#111" stroke-width="1.1"/>
<line x1="551.20" y1="518.50" x2="556.20" y2="518.50" stroke="#111" stroke-width="1.1"/>
<line x1="551.20" y1="528.90" x2="556.20" y2="528.90" stroke="#111" stroke-width="1.1"/>
<line x1="553.70" y1="518.50" x2="553.70" y2="528.90" stroke="#111" stroke-width="1.1"/>
<line x1="566.80" y1="519.00" x2="571.80" y2="519.00" stroke="#111" stroke-width="1.1"/>
<line x1="566.80" y1="526.90" x2="571.80" y2="526.90" stroke="#111" stroke-width="1.1"/>
<line x1="569.30" y1="519.00" x2="569.30" y2="526.90" stroke="#111" stroke-width="1.1"/>
<line x1="582.40" y1="524.90" x2="587.40" y2="524.90" stroke="#111" stroke-width="1.1"/>
<line x1="582.40" y1="529.50" x2="587.40" y2="529.50" stroke="#111" stroke-width="1.1"/>
<line x1="584.90" y1="524.90" x2="584.90" y2="529.50" stroke="#111" stroke-width="1.1"/>
<rect x="449.10" y="395.70" width="2.60" height="1.6" fill="#111"/>
<rect x="449.10" y="418.50" width="2.60" height="1.6" fill="#111"/>
<rect x="449.10" y="434.60" width="2.60" height="1.6" fill="#111"/>
<rect x="449.10" y="441.40" width="2.60" height="1.6" fill="#111"/>
<rect x="449.10" y="450.80" width="2.60" height="1.6" fill="#111"/>
<rect x="449.10" y="459.90" width="2.60" height="1.6" fill="#111"/>
<rect x="449.10" y="473.50" width="2.60" height="1.6" fill="#111"/>
<rect x="449.10" y="499.00" width="2.60" height="1.6" fill="#111"/>
<rect x="464.60" y="395.70" width="2.60" height="1.6" fill="#111"/>
<rect x="464.60" y="420.90" width="2.60" height="1.6" fill="#111"/>
<rect x="464.60" y="434.60" width="2.60" height="1.6" fill="#111"/>
<rect x="464.60" y="441.40" width="2.60" height="1.6" fill="#111"/>
<rect x="464.60" y="450.40" width="2.60" height="1.6" fill="#111"/>
<rect x="464.60" y="459.90" width="2.60" height="1.6" fill="#111"/>
<rect x="464.60" y="473.50" width="2.60" height="1.6" fill="#111"/>
<rect x="464.60" y="485.20" width="2.60" height="1.6" fill="#111"/>
<rect x="464.60" y="512.70" width="2.60" height="1.6" fill="#111"/>
<rect x="480.10" y="413.90" width="2.60" height="1.6" fill="#111"/>
<rect x="480.10" y="422.90" width="2.60" height="1.6" fill="#111"/>
<rect x="480.10" y="432.40" width="2.60" height="1.6" fill="#111"/>
<rect x="480.10" y="441.40" width="2.60" height="1.6" fill="#111"/>
<rect x="480.10" y="453.50" width="2.60" height="1.6" fill="#111"/>
<rect x="480.10" y="459.90" width="2.60" height="1.6" fill="#111"/>
<rect x="480.10" y="469.10" width="2.60" height="1.6" fill="#111"/>
<rect x="480.10" y="478.10" width="2.60" height="1.6" fill="#111"/>
<rect x="500.80" y="457.50" width="2.60" height="1.6" fill="#111"/>
<rect x="500.80" y="464.30" width="2.60" height="1.6" fill="#111"/>
<rect x="500.80" y="473.50" width="2.60" height="1.6" fill="#111"/>
<rect x="500.80" y="483.00" width="2.60" height="1.6" fill="#111"/>
<rect x="500.80" y="492.20" width="2.60" height="1.6" fill="#111"/>
<rect x="500.80" y="510.20" width="2.60" height="1.6" fill="#111"/>
<rect x="500.80" y="524.10" width="2.60" height="1.6" fill="#111"/>
<rect x="516.30" y="450.40" width="2.60" height="1.6" fill="#111"/>
<rect x="516.30" y="466.70" width="2.60" height="1.6" fill="#111"/>
<rect x="516.30" y="475.90" width="2.60" height="1.6" fill="#111"/>
<rect x="516.30" y="483.00" width="2.60" height="1.6" fill="#111"/>
<rect x="516.30" y="492.20" width="2.60" height="1.6" fill="#111"/>
<rect x="516.30" y="501.20" width="2.60" height="1.6" fill="#111"/>
<rect x="516.30" y="535.70" width="2.60" height="1.6" fill="#111"/>
<rect x="531.90" y="453.10" width="2.60" height="1.6" fill="#111"/>
<rect x="531.90" y="459.90" width="2.60" height="1.6" fill="#111"/>
<rect x="531.90" y="473.50" width="2.60" height="1.6" fill="#111"/>
<rect x="531.90" y="480.50" width="2.60" height="1.6" fill="#111"/>
<rect x="531.90" y="483.00" width="2.60" height="1.6" fill="#111"/>
<rect x="531.90" y="492.20" width="2.60" height="1.6" fill="#111"/>
<rect x="531.90" y="501.20" width="2.60" height="1.6" fill="#111"/>
<rect x="531.90" y="512.70" width="2.60" height="1.6" fill="#111"/>
<rect x="552.40" y="471.50" width="2.60" height="1.6" fill="#111"/>
<rect x="552.40" y="480.50" width="2.60" height="1.6" fill="#111"/>
<rect x="552.40" y="494.20" width="2.60" height="1.6" fill="#111"/>
<rect x="552.40" y="503.60" width="2.60" height="1.6" fill="#111"/>
<rect x="552.40" y="512.70" width="2.60" height="1.6" fill="#111"/>
<rect x="552.40" y="517.70" width="2.60" height="1.6" fill="#111"/>
<rect x="552.40" y="528.10" width="2.60" height="1.6" fill="#111"/>
<rect x="552.40" y="537.70" width="2.60" height="1.6" fill="#111"/>
<rect x="552.40" y="551.40" width="2.60" height="1.6" fill="#111"/>
<rect x="568.00" y="475.90" width="2.60" height="1.6" fill="#111"/>
<rect x="568.00" y="505.60" width="2.60" height="1.6" fill="#111"/>
<rect x="568.00" y="514.90" width="2.60" height="1.6" fill="#111"/>
<rect x="568.00" y="526.10" width="2.60" height="1.6" fill="#111"/>
<rect x="568.00" y="533.30" width="2.60" height="1.6" fill="#111"/>
<rect x="568.00" y="542.40" width="2.60" height="1.6" fill="#111"/>
<rect x="568.00" y="553.80" width="2.60" height="1.6" fill="#111"/>
<rect x="583.60" y="501.00" width="2.60" height="1.6" fill="#111"/>
<rect x="583.60" y="514.90" width="2.60" height="1.6" fill="#111"/>
<rect x="583.60" y="524.10" width="2.60" height="1.6" fill="#111"/>
<rect x="583.60" y="533.30" width="2.60" height="1.6" fill="#111"/>
<rect x="583.60" y="542.40" width="2.60" height="1.6" fill="#111"/>
<rect x="583.60" y="553.80" width="2.60" height="1.6" fill="#111"/>
<line x1="465.50" y1="570.50" x2="465.50" y2="576.00" stroke="#4a4a4a" stroke-width="1.0"/>
<line x1="517.50" y1="570.50" x2="517.50" y2="576.00" stroke="#4a4a4a" stroke-width="1.0"/>
<line x1="569.50" y1="570.50" x2="569.50" y2="576.00" stroke="#4a4a4a" stroke-width="1.0"/>
<text x="444.36" y="595.50" font-size="15.84" font-weight="normal" font-style="normal" fill="#121212" textLength="43.25" lengthAdjust="spacingAndGlyphs">Target</text>
<text x="504.47" y="595.50" font-size="15.84" font-weight="normal" font-style="normal" fill="#121212" textLength="26.11" lengthAdjust="spacingAndGlyphs">Foil</text>
<text x="533.66" y="595.50" font-size="15.84" font-weight="normal" font-style="normal" fill="#121212" textLength="69.91" lengthAdjust="spacingAndGlyphs">Distractor</text>
<text transform="translate(380.90,527.30) rotate(-90)" x="-1.49" y="0" font-size="16.97" fill="#121212" textLength="158.92" lengthAdjust="spacingAndGlyphs">Mean response (%)</text>
<line x1="686.10" y1="328.10" x2="686.10" y2="571.00" stroke="#4a4a4a" stroke-width="1.0"/>
<line x1="685.60" y1="570.50" x2="860.00" y2="570.50" stroke="#4a4a4a" stroke-width="1.0"/>
<line x1="680.30" y1="341.40" x2="686.10" y2="341.40" stroke="#4a4a4a" stroke-width="1.0"/>
<text x="654.77" y="346.80" font-size="16.90" font-weight="normal" font-style="normal" fill="#121212" textLength="18.05" lengthAdjust="spacingAndGlyphs">12</text>
<line x1="680.30" y1="377.70" x2="686.10" y2="377.70" stroke="#4a4a4a" stroke-width="1.0"/>
<text x="654.59" y="383.10" font-size="16.90" font-weight="normal" font-style="normal" fill="#121212" textLength="18.05" lengthAdjust="spacingAndGlyphs">10</text>
<line x1="680.30" y1="414.00" x2="686.10" y2="414.00" stroke="#4a4a4a" stroke-width="1.0"/>
<text x="663.68" y="419.40" font-size="16.90" font-weight="normal" font-style="normal" fill="#121212" textLength="9.02" lengthAdjust="spacingAndGlyphs">8</text>
<line x1="680.30" y1="450.30" x2="686.10" y2="450.30" stroke="#4a4a4a" stroke-width="1.0"/>
<text x="663.69" y="455.70" font-size="16.90" font-weight="normal" font-style="normal" fill="#121212" textLength="9.02" lengthAdjust="spacingAndGlyphs">6</text>
<line x1="680.30" y1="486.60" x2="686.10" y2="486.60" stroke="#4a4a4a" stroke-width="1.0"/>
<text x="663.33" y="492.00" font-size="17.15" font-weight="normal" font-style="normal" fill="#121212" textLength="9.16" lengthAdjust="spacingAndGlyphs">4</text>
<line x1="680.30" y1="522.90" x2="686.10" y2="522.90" stroke="#4a4a4a" stroke-width="1.0"/>
<text x="663.79" y="528.30" font-size="16.90" font-weight="normal" font-style="normal" fill="#121212" textLength="9.02" lengthAdjust="spacingAndGlyphs">2</text>
<line x1="680.30" y1="559.20" x2="686.10" y2="559.20" stroke="#4a4a4a" stroke-width="1.0"/>
<text x="663.61" y="564.60" font-size="16.90" font-weight="normal" font-style="normal" fill="#121212" textLength="9.02" lengthAdjust="spacingAndGlyphs">0</text>
<rect x="694.40" y="482.00" width="16.10" height="77.20" fill="#767676"/>
<rect x="710.50" y="479.10" width="16.30" height="80.10" fill="#57b4e8"/>
<rect x="726.80" y="484.70" width="16.40" height="74.50" fill="#d55e00"/>
<rect x="748.70" y="461.00" width="16.20" height="98.20" fill="#767676"/>
<rect x="764.90" y="466.00" width="16.30" height="93.20" fill="#57b4e8"/>
<rect x="781.20" y="462.50" width="16.30" height="96.70" fill="#d55e00"/>
<rect x="803.20" y="456.30" width="16.00" height="102.90" fill="#767676"/>
<rect x="819.20" y="454.80" width="16.40" height="104.40" fill="#57b4e8"/>
<rect x="835.60" y="459.40" width="16.30" height="99.80" fill="#d55e00"/>
<line x1="699.90" y1="477.10" x2="704.90" y2="477.10" stroke="#111" stroke-width="1.1"/>
<line x1="699.90" y1="486.90" x2="704.90" y2="486.90" stroke="#111" stroke-width="1.1"/>
<line x1="702.40" y1="477.10" x2="702.40" y2="486.90" stroke="#111" stroke-width="1.1"/>
<line x1="716.10" y1="474.90" x2="721.10" y2="474.90" stroke="#111" stroke-width="1.1"/>
<line x1="716.10" y1="483.10" x2="721.10" y2="483.10" stroke="#111" stroke-width="1.1"/>
<line x1="718.60" y1="474.90" x2="718.60" y2="483.10" stroke="#111" stroke-width="1.1"/>
<line x1="732.50" y1="480.90" x2="737.50" y2="480.90" stroke="#111" stroke-width="1.1"/>
<line x1="732.50" y1="487.60" x2="737.50" y2="487.60" stroke="#111" stroke-width="1.1"/>
<line x1="735.00" y1="480.90" x2="735.00" y2="487.60" stroke="#111" stroke-width="1.1"/>
<line x1="754.30" y1="453.60" x2="759.30" y2="453.60" stroke="#111" stroke-width="1.1"/>
<line x1="754.30" y1="468.70" x2="759.30" y2="468.70" stroke="#111" stroke-width="1.1"/>
<line x1="756.80" y1="453.60" x2="756.80" y2="468.70" stroke="#111" stroke-width="1.1"/>
<line x1="770.60" y1="459.40" x2="775.60" y2="459.40" stroke="#111" stroke-width="1.1"/>
<line x1="770.60" y1="471.40" x2="775.60" y2="471.40" stroke="#111" stroke-width="1.1"/>
<line x1="773.10" y1="459.40" x2="773.10" y2="471.40" stroke="#111" stroke-width="1.1"/>
<line x1="786.90" y1="454.30" x2="791.90" y2="454.30" stroke="#111" stroke-width="1.1"/>
<line x1="786.90" y1="471.40" x2="791.90" y2="471.40" stroke="#111" stroke-width="1.1"/>
<line x1="789.40" y1="454.30" x2="789.40" y2="471.40" stroke="#111" stroke-width="1.1"/>
<line x1="808.70" y1="448.30" x2="813.70" y2="448.30" stroke="#111" stroke-width="1.1"/>
<line x1="808.70" y1="457.60" x2="813.70" y2="457.60" stroke="#111" stroke-width="1.1"/>
<line x1="811.20" y1="448.30" x2="811.20" y2="457.60" stroke="#111" stroke-width="1.1"/>
<line x1="825.00" y1="445.40" x2="830.00" y2="445.40" stroke="#111" stroke-width="1.1"/>
<line x1="825.00" y1="464.70" x2="830.00" y2="464.70" stroke="#111" stroke-width="1.1"/>
<line x1="827.50" y1="445.40" x2="827.50" y2="464.70" stroke="#111" stroke-width="1.1"/>
<line x1="841.30" y1="452.10" x2="846.30" y2="452.10" stroke="#111" stroke-width="1.1"/>
<line x1="841.30" y1="466.00" x2="846.30" y2="466.00" stroke="#111" stroke-width="1.1"/>
<line x1="843.80" y1="452.10" x2="843.80" y2="466.00" stroke="#111" stroke-width="1.1"/>
<rect x="701.10" y="415.40" width="2.60" height="1.6" fill="#111"/>
<rect x="701.10" y="454.00" width="2.60" height="1.6" fill="#111"/>
<rect x="701.10" y="462.80" width="2.60" height="1.6" fill="#111"/>
<rect x="701.10" y="472.40" width="2.60" height="1.6" fill="#111"/>
<rect x="701.10" y="483.00" width="2.60" height="1.6" fill="#111"/>
<rect x="701.10" y="490.80" width="2.60" height="1.6" fill="#111"/>
<rect x="701.10" y="499.60" width="2.60" height="1.6" fill="#111"/>
<rect x="701.10" y="514.50" width="2.60" height="1.6" fill="#111"/>
<rect x="701.10" y="525.10" width="2.60" height="1.6" fill="#111"/>
<rect x="717.30" y="418.50" width="2.60" height="1.6" fill="#111"/>
<rect x="717.30" y="452.40" width="2.60" height="1.6" fill="#111"/>
<rect x="717.30" y="466.10" width="2.60" height="1.6" fill="#111"/>
<rect x="717.30" y="477.20" width="2.60" height="1.6" fill="#111"/>
<rect x="717.30" y="488.30" width="2.60" height="1.6" fill="#111"/>
<rect x="717.30" y="499.60" width="2.60" height="1.6" fill="#111"/>
<rect x="717.30" y="510.00" width="2.60" height="1.6" fill="#111"/>
<rect x="733.70" y="445.80" width="2.60" height="1.6" fill="#111"/>
<rect x="733.70" y="458.60" width="2.60" height="1.6" fill="#111"/>
<rect x="733.70" y="473.90" width="2.60" height="1.6" fill="#111"/>
<rect x="733.70" y="480.10" width="2.60" height="1.6" fill="#111"/>
<rect x="733.70" y="483.90" width="2.60" height="1.6" fill="#111"/>
<rect x="733.70" y="490.80" width="2.60" height="1.6" fill="#111"/>
<rect x="733.70" y="498.10" width="2.60" height="1.6" fill="#111"/>
<rect x="733.70" y="508.90" width="2.60" height="1.6" fill="#111"/>
<rect x="733.70" y="517.10" width="2.60" height="1.6" fill="#111"/>
<rect x="755.50" y="407.00" width="2.60" height="1.6" fill="#111"/>
<rect x="755.50" y="430.20" width="2.60" height="1.6" fill="#111"/>
<rect x="755.50" y="437.30" width="2.60" height="1.6" fill="#111"/>
<rect x="755.50" y="452.80" width="2.60" height="1.6" fill="#111"/>
<rect x="755.50" y="467.90" width="2.60" height="1.6" fill="#111"/>
<rect x="755.50" y="479.70" width="2.60" height="1.6" fill="#111"/>
<rect x="755.50" y="487.40" width="2.60" height="1.6" fill="#111"/>
<rect x="755.50" y="507.80" width="2.60" height="1.6" fill="#111"/>
<rect x="755.50" y="522.70" width="2.60" height="1.6" fill="#111"/>
<rect x="771.80" y="407.60" width="2.60" height="1.6" fill="#111"/>
<rect x="771.80" y="417.60" width="2.60" height="1.6" fill="#111"/>
<rect x="771.80" y="430.20" width="2.60" height="1.6" fill="#111"/>
<rect x="771.80" y="458.60" width="2.60" height="1.6" fill="#111"/>
<rect x="771.80" y="465.00" width="2.60" height="1.6" fill="#111"/>
<rect x="771.80" y="474.60" width="2.60" height="1.6" fill="#111"/>
<rect x="771.80" y="488.30" width="2.60" height="1.6" fill="#111"/>
<rect x="771.80" y="496.10" width="2.60" height="1.6" fill="#111"/>
<rect x="771.80" y="522.20" width="2.60" height="1.6" fill="#111"/>
<rect x="788.10" y="359.20" width="2.60" height="1.6" fill="#111"/>
<rect x="788.10" y="389.20" width="2.60" height="1.6" fill="#111"/>
<rect x="788.10" y="425.40" width="2.60" height="1.6" fill="#111"/>
<rect x="788.10" y="453.50" width="2.60" height="1.6" fill="#111"/>
<rect x="788.10" y="461.70" width="2.60" height="1.6" fill="#111"/>
<rect x="788.10" y="470.60" width="2.60" height="1.6" fill="#111"/>
<rect x="788.10" y="481.90" width="2.60" height="1.6" fill="#111"/>
<rect x="788.10" y="492.70" width="2.60" height="1.6" fill="#111"/>
<rect x="788.10" y="506.10" width="2.60" height="1.6" fill="#111"/>
<rect x="809.90" y="371.20" width="2.60" height="1.6" fill="#111"/>
<rect x="809.90" y="395.80" width="2.60" height="1.6" fill="#111"/>
<rect x="809.90" y="414.30" width="2.60" height="1.6" fill="#111"/>
<rect x="809.90" y="430.20" width="2.60" height="1.6" fill="#111"/>
<rect x="809.90" y="445.80" width="2.60" height="1.6" fill="#111"/>
<rect x="809.90" y="451.30" width="2.60" height="1.6" fill="#111"/>
<rect x="809.90" y="462.40" width="2.60" height="1.6" fill="#111"/>
<rect x="809.90" y="470.60" width="2.60" height="1.6" fill="#111"/>
<rect x="809.90" y="520.00" width="2.60" height="1.6" fill="#111"/>
<rect x="809.90" y="530.00" width="2.60" height="1.6" fill="#111"/>
<rect x="826.20" y="357.20" width="2.60" height="1.6" fill="#111"/>
<rect x="826.20" y="389.20" width="2.60" height="1.6" fill="#111"/>
<rect x="826.20" y="404.70" width="2.60" height="1.6" fill="#111"/>
<rect x="826.20" y="424.00" width="2.60" height="1.6" fill="#111"/>
<rect x="826.20" y="435.80" width="2.60" height="1.6" fill="#111"/>
<rect x="826.20" y="444.60" width="2.60" height="1.6" fill="#111"/>
<rect x="826.20" y="463.90" width="2.60" height="1.6" fill="#111"/>
<rect x="826.20" y="474.60" width="2.60" height="1.6" fill="#111"/>
<rect x="826.20" y="484.50" width="2.60" height="1.6" fill="#111"/>
<rect x="826.20" y="524.40" width="2.60" height="1.6" fill="#111"/>
<rect x="842.50" y="399.90" width="2.60" height="1.6" fill="#111"/>
<rect x="842.50" y="410.70" width="2.60" height="1.6" fill="#111"/>
<rect x="842.50" y="428.70" width="2.60" height="1.6" fill="#111"/>
<rect x="842.50" y="444.20" width="2.60" height="1.6" fill="#111"/>
<rect x="842.50" y="459.10" width="2.60" height="1.6" fill="#111"/>
<rect x="842.50" y="467.90" width="2.60" height="1.6" fill="#111"/>
<rect x="842.50" y="477.20" width="2.60" height="1.6" fill="#111"/>
<rect x="842.50" y="487.90" width="2.60" height="1.6" fill="#111"/>
<rect x="842.50" y="504.90" width="2.60" height="1.6" fill="#111"/>
<rect x="842.50" y="514.00" width="2.60" height="1.6" fill="#111"/>
<line x1="718.80" y1="570.50" x2="718.80" y2="576.00" stroke="#4a4a4a" stroke-width="1.0"/>
<line x1="773.10" y1="570.50" x2="773.10" y2="576.00" stroke="#4a4a4a" stroke-width="1.0"/>
<line x1="827.50" y1="570.50" x2="827.50" y2="576.00" stroke="#4a4a4a" stroke-width="1.0"/>
<text x="696.96" y="595.50" font-size="15.84" font-weight="normal" font-style="normal" fill="#121212" textLength="43.45" lengthAdjust="spacingAndGlyphs">Target</text>
<text x="759.57" y="595.50" font-size="15.84" font-weight="normal" font-style="normal" fill="#121212" textLength="26.11" lengthAdjust="spacingAndGlyphs">Foil</text>
<text x="792.16" y="595.50" font-size="15.84" font-weight="normal" font-style="normal" fill="#121212" textLength="69.91" lengthAdjust="spacingAndGlyphs">Distractor</text>
<text transform="translate(640.70,503.40) rotate(-90)" x="-1.45" y="0" font-size="17.39" fill="#121212" textLength="111.95" lengthAdjust="spacingAndGlyphs">Median RT (s)</text>
<line x1="940.30" y1="328.10" x2="940.30" y2="571.00" stroke="#4a4a4a" stroke-width="1.0"/>
<line x1="939.80" y1="570.50" x2="1122.80" y2="570.50" stroke="#4a4a4a" stroke-width="1.0"/>
<line x1="934.50" y1="341.40" x2="940.30" y2="341.40" stroke="#4a4a4a" stroke-width="1.0"/>
<text x="917.83" y="346.80" font-size="17.15" font-weight="normal" font-style="normal" fill="#121212" textLength="9.16" lengthAdjust="spacingAndGlyphs">4</text>
<line x1="934.50" y1="395.90" x2="940.30" y2="395.90" stroke="#4a4a4a" stroke-width="1.0"/>
<text x="918.19" y="401.30" font-size="16.90" font-weight="normal" font-style="normal" fill="#121212" textLength="9.02" lengthAdjust="spacingAndGlyphs">3</text>
<line x1="934.50" y1="450.40" x2="940.30" y2="450.40" stroke="#4a4a4a" stroke-width="1.0"/>
<text x="918.29" y="455.80" font-size="16.90" font-weight="normal" font-style="normal" fill="#121212" textLength="9.02" lengthAdjust="spacingAndGlyphs">2</text>
<line x1="934.50" y1="504.90" x2="940.30" y2="504.90" stroke="#4a4a4a" stroke-width="1.0"/>
<text x="918.15" y="510.30" font-size="17.15" font-weight="normal" font-style="normal" fill="#121212" textLength="9.16" lengthAdjust="spacingAndGlyphs">1</text>
<line x1="934.50" y1="559.40" x2="940.30" y2="559.40" stroke="#4a4a4a" stroke-width="1.0"/>
<text x="918.11" y="564.80" font-size="16.90" font-weight="normal" font-style="normal" fill="#121212" textLength="9.02" lengthAdjust="spacingAndGlyphs">0</text>
<rect x="948.70" y="414.60" width="17.00" height="144.80" fill="#767676"/>
<rect x="965.70" y="414.60" width="17.20" height="144.80" fill="#57b4e8"/>
<rect x="982.90" y="407.20" width="17.10" height="152.20" fill="#d55e00"/>
<rect x="1006.00" y="450.70" width="16.80" height="108.70" fill="#767676"/>
<rect x="1022.80" y="455.20" width="17.10" height="104.20" fill="#57b4e8"/>
<rect x="1039.90" y="448.00" width="17.20" height="111.40" fill="#d55e00"/>
<rect x="1063.20" y="472.80" width="16.90" height="86.60" fill="#767676"/>
<rect x="1080.10" y="462.20" width="17.10" height="97.20" fill="#57b4e8"/>
<rect x="1097.20" y="463.80" width="16.80" height="95.60" fill="#d55e00"/>
<line x1="954.70" y1="408.40" x2="959.70" y2="408.40" stroke="#111" stroke-width="1.1"/>
<line x1="954.70" y1="418.30" x2="959.70" y2="418.30" stroke="#111" stroke-width="1.1"/>
<line x1="957.20" y1="408.40" x2="957.20" y2="418.30" stroke="#111" stroke-width="1.1"/>
<line x1="971.80" y1="408.70" x2="976.80" y2="408.70" stroke="#111" stroke-width="1.1"/>
<line x1="971.80" y1="420.50" x2="976.80" y2="420.50" stroke="#111" stroke-width="1.1"/>
<line x1="974.30" y1="408.70" x2="974.30" y2="420.50" stroke="#111" stroke-width="1.1"/>
<line x1="989.00" y1="403.10" x2="994.00" y2="403.10" stroke="#111" stroke-width="1.1"/>
<line x1="989.00" y1="410.90" x2="994.00" y2="410.90" stroke="#111" stroke-width="1.1"/>
<line x1="991.50" y1="403.10" x2="991.50" y2="410.90" stroke="#111" stroke-width="1.1"/>
<line x1="1012.00" y1="444.20" x2="1017.00" y2="444.20" stroke="#111" stroke-width="1.1"/>
<line x1="1012.00" y1="458.10" x2="1017.00" y2="458.10" stroke="#111" stroke-width="1.1"/>
<line x1="1014.50" y1="444.20" x2="1014.50" y2="458.10" stroke="#111" stroke-width="1.1"/>
<line x1="1028.80" y1="449.10" x2="1033.80" y2="449.10" stroke="#111" stroke-width="1.1"/>
<line x1="1028.80" y1="461.50" x2="1033.80" y2="461.50" stroke="#111" stroke-width="1.1"/>
<line x1="1031.30" y1="449.10" x2="1031.30" y2="461.50" stroke="#111" stroke-width="1.1"/>
<line x1="1046.00" y1="440.80" x2="1051.00" y2="440.80" stroke="#111" stroke-width="1.1"/>
<line x1="1046.00" y1="454.30" x2="1051.00" y2="454.30" stroke="#111" stroke-width="1.1"/>
<line x1="1048.50" y1="440.80" x2="1048.50" y2="454.30" stroke="#111" stroke-width="1.1"/>
<line x1="1069.20" y1="465.30" x2="1074.20" y2="465.30" stroke="#111" stroke-width="1.1"/>
<line x1="1069.20" y1="480.00" x2="1074.20" y2="480.00" stroke="#111" stroke-width="1.1"/>
<line x1="1071.70" y1="465.30" x2="1071.70" y2="480.00" stroke="#111" stroke-width="1.1"/>
<line x1="1086.10" y1="457.00" x2="1091.10" y2="457.00" stroke="#111" stroke-width="1.1"/>
<line x1="1086.10" y1="467.80" x2="1091.10" y2="467.80" stroke="#111" stroke-width="1.1"/>
<line x1="1088.60" y1="457.00" x2="1088.60" y2="467.80" stroke="#111" stroke-width="1.1"/>
<line x1="1103.10" y1="455.40" x2="1108.10" y2="455.40" stroke="#111" stroke-width="1.1"/>
<line x1="1103.10" y1="470.50" x2="1108.10" y2="470.50" stroke="#111" stroke-width="1.1"/>
<line x1="1105.60" y1="455.40" x2="1105.60" y2="470.50" stroke="#111" stroke-width="1.1"/>
<rect x="955.90" y="379.10" width="2.60" height="1.6" fill="#111"/>
<rect x="955.90" y="399.00" width="2.60" height="1.6" fill="#111"/>
<rect x="955.90" y="407.60" width="2.60" height="1.6" fill="#111"/>
<rect x="955.90" y="416.80" width="2.60" height="1.6" fill="#111"/>
<rect x="955.90" y="426.40" width="2.60" height="1.6" fill="#111"/>
<rect x="955.90" y="449.60" width="2.60" height="1.6" fill="#111"/>
<rect x="973.00" y="376.10" width="2.60" height="1.6" fill="#111"/>
<rect x="973.00" y="386.90" width="2.60" height="1.6" fill="#111"/>
<rect x="973.00" y="401.20" width="2.60" height="1.6" fill="#111"/>
<rect x="973.00" y="413.10" width="2.60" height="1.6" fill="#111"/>
<rect x="973.00" y="429.80" width="2.60" height="1.6" fill="#111"/>
<rect x="973.00" y="439.00" width="2.60" height="1.6" fill="#111"/>
<rect x="973.00" y="450.00" width="2.60" height="1.6" fill="#111"/>
<rect x="990.20" y="362.80" width="2.60" height="1.6" fill="#111"/>
<rect x="990.20" y="370.90" width="2.60" height="1.6" fill="#111"/>
<rect x="990.20" y="380.30" width="2.60" height="1.6" fill="#111"/>
<rect x="990.20" y="395.30" width="2.60" height="1.6" fill="#111"/>
<rect x="990.20" y="400.20" width="2.60" height="1.6" fill="#111"/>
<rect x="990.20" y="408.60" width="2.60" height="1.6" fill="#111"/>
<rect x="990.20" y="420.20" width="2.60" height="1.6" fill="#111"/>
<rect x="990.20" y="427.90" width="2.60" height="1.6" fill="#111"/>
<rect x="990.20" y="444.10" width="2.60" height="1.6" fill="#111"/>
<rect x="1013.20" y="404.60" width="2.60" height="1.6" fill="#111"/>
<rect x="1013.20" y="410.70" width="2.60" height="1.6" fill="#111"/>
<rect x="1013.20" y="438.90" width="2.60" height="1.6" fill="#111"/>
<rect x="1013.20" y="451.00" width="2.60" height="1.6" fill="#111"/>
<rect x="1013.20" y="472.00" width="2.60" height="1.6" fill="#111"/>
<rect x="1013.20" y="483.20" width="2.60" height="1.6" fill="#111"/>
<rect x="1013.20" y="492.20" width="2.60" height="1.6" fill="#111"/>
<rect x="1030.00" y="371.20" width="2.60" height="1.6" fill="#111"/>
<rect x="1030.00" y="423.50" width="2.60" height="1.6" fill="#111"/>
<rect x="1030.00" y="434.80" width="2.60" height="1.6" fill="#111"/>
<rect x="1030.00" y="445.00" width="2.60" height="1.6" fill="#111"/>
<rect x="1030.00" y="454.00" width="2.60" height="1.6" fill="#111"/>
<rect x="1030.00" y="461.40" width="2.60" height="1.6" fill="#111"/>
<rect x="1030.00" y="469.20" width="2.60" height="1.6" fill="#111"/>
<rect x="1030.00" y="477.10" width="2.60" height="1.6" fill="#111"/>
<rect x="1030.00" y="487.00" width="2.60" height="1.6" fill="#111"/>
<rect x="1047.20" y="363.40" width="2.60" height="1.6" fill="#111"/>
<rect x="1047.20" y="404.90" width="2.60" height="1.6" fill="#111"/>
<rect x="1047.20" y="416.40" width="2.60" height="1.6" fill="#111"/>
<rect x="1047.20" y="426.90" width="2.60" height="1.6" fill="#111"/>
<rect x="1047.20" y="453.30" width="2.60" height="1.6" fill="#111"/>
<rect x="1047.20" y="466.30" width="2.60" height="1.6" fill="#111"/>
<rect x="1047.20" y="472.40" width="2.60" height="1.6" fill="#111"/>
<rect x="1047.20" y="488.40" width="2.60" height="1.6" fill="#111"/>
<rect x="1070.40" y="365.80" width="2.60" height="1.6" fill="#111"/>
<rect x="1070.40" y="426.20" width="2.60" height="1.6" fill="#111"/>
<rect x="1070.40" y="448.30" width="2.60" height="1.6" fill="#111"/>
<rect x="1070.40" y="458.50" width="2.60" height="1.6" fill="#111"/>
<rect x="1070.40" y="470.40" width="2.60" height="1.6" fill="#111"/>
<rect x="1070.40" y="482.50" width="2.60" height="1.6" fill="#111"/>
<rect x="1070.40" y="495.60" width="2.60" height="1.6" fill="#111"/>
<rect x="1070.40" y="503.50" width="2.60" height="1.6" fill="#111"/>
<rect x="1087.30" y="393.10" width="2.60" height="1.6" fill="#111"/>
<rect x="1087.30" y="429.90" width="2.60" height="1.6" fill="#111"/>
<rect x="1087.30" y="445.00" width="2.60" height="1.6" fill="#111"/>
<rect x="1087.30" y="456.20" width="2.60" height="1.6" fill="#111"/>
<rect x="1087.30" y="467.00" width="2.60" height="1.6" fill="#111"/>
<rect x="1087.30" y="485.00" width="2.60" height="1.6" fill="#111"/>
<rect x="1087.30" y="492.90" width="2.60" height="1.6" fill="#111"/>
<rect x="1087.30" y="503.50" width="2.60" height="1.6" fill="#111"/>
<rect x="1104.30" y="360.30" width="2.60" height="1.6" fill="#111"/>
<rect x="1104.30" y="399.90" width="2.60" height="1.6" fill="#111"/>
<rect x="1104.30" y="426.90" width="2.60" height="1.6" fill="#111"/>
<rect x="1104.30" y="451.20" width="2.60" height="1.6" fill="#111"/>
<rect x="1104.30" y="454.60" width="2.60" height="1.6" fill="#111"/>
<rect x="1104.30" y="469.70" width="2.60" height="1.6" fill="#111"/>
<rect x="1104.30" y="478.70" width="2.60" height="1.6" fill="#111"/>
<rect x="1104.30" y="493.30" width="2.60" height="1.6" fill="#111"/>
<rect x="1104.30" y="503.50" width="2.60" height="1.6" fill="#111"/>
<line x1="974.30" y1="570.50" x2="974.30" y2="576.00" stroke="#4a4a4a" stroke-width="1.0"/>
<line x1="1031.30" y1="570.50" x2="1031.30" y2="576.00" stroke="#4a4a4a" stroke-width="1.0"/>
<line x1="1088.60" y1="570.50" x2="1088.60" y2="576.00" stroke="#4a4a4a" stroke-width="1.0"/>
<text x="952.16" y="595.50" font-size="15.84" font-weight="normal" font-style="normal" fill="#121212" textLength="44.36" lengthAdjust="spacingAndGlyphs">Target</text>
<text x="1018.28" y="595.50" font-size="15.84" font-weight="normal" font-style="normal" fill="#121212" textLength="26.00" lengthAdjust="spacingAndGlyphs">Foil</text>
<text x="1053.06" y="595.50" font-size="15.84" font-weight="normal" font-style="normal" fill="#121212" textLength="70.01" lengthAdjust="spacingAndGlyphs">Distractor</text>
<text transform="translate(902.80,520.60) rotate(-90)" x="-1.58" y="0" font-size="16.97" fill="#121212" textLength="146.33" lengthAdjust="spacingAndGlyphs">Mean confidence</text>
<rect x="1130.40" y="429.75" width="14.40" height="13.95" fill="#767676"/>
<circle cx="1137.6" cy="436.73" r="2.9" fill="none" stroke="#111" stroke-width="0.9"/>
<rect x="1130.40" y="445.20" width="14.40" height="13.70" fill="#57b4e8"/>
<circle cx="1137.6" cy="452.05" r="2.9" fill="none" stroke="#111" stroke-width="0.9"/>
<rect x="1130.40" y="461.00" width="14.40" height="13.80" fill="#d55e00"/>
<circle cx="1137.6" cy="467.90" r="2.9" fill="none" stroke="#111" stroke-width="0.9"/>
<text x="1152.06" y="442.80" font-size="18.62" font-weight="normal" font-style="normal" fill="#121212" textLength="48.05" lengthAdjust="spacingAndGlyphs">Sham</text>
<text x="1152.57" y="458.20" font-size="18.75" font-weight="normal" font-style="normal" fill="#121212" textLength="37.14" lengthAdjust="spacingAndGlyphs">TI 1:1</text>
<text x="1152.53" y="473.70" font-size="18.47" font-weight="normal" font-style="normal" fill="#121212" textLength="41.99" lengthAdjust="spacingAndGlyphs">TI 1:3</text>
<text x="516.20" y="668.35" font-size="25.80" font-weight="bold" font-style="normal" fill="#000" textLength="8.80" lengthAdjust="spacingAndGlyphs" stroke="#000" stroke-width="0.7">f</text>
<rect x="589.00" y="678.40" width="105.00" height="24.00" fill="#d9d9d9"/>
<rect x="700.00" y="678.40" width="105.00" height="24.00" fill="#d9d9d9"/>
<text x="609.75" y="696.00" font-size="17.73" font-weight="normal" font-style="normal" fill="#121212" textLength="63.88" lengthAdjust="spacingAndGlyphs">Encode</text>
<text x="726.03" y="696.00" font-size="17.73" font-weight="normal" font-style="normal" fill="#121212" textLength="53.25" lengthAdjust="spacingAndGlyphs">Recall</text>
<line x1="589.50" y1="702.80" x2="589.50" y2="889.50" stroke="#4a4a4a" stroke-width="1.0"/>
<line x1="589.00" y1="889.00" x2="693.90" y2="889.00" stroke="#4a4a4a" stroke-width="1.0"/>
<line x1="699.90" y1="889.00" x2="804.50" y2="889.00" stroke="#4a4a4a" stroke-width="1.0"/>
<line x1="583.60" y1="727.84" x2="589.50" y2="727.84" stroke="#4a4a4a" stroke-width="1.0"/>
<text x="554.69" y="733.24" font-size="16.76" font-weight="normal" font-style="normal" fill="#121212" textLength="21.58" lengthAdjust="spacingAndGlyphs">0.8</text>
<line x1="583.60" y1="761.92" x2="589.50" y2="761.92" stroke="#4a4a4a" stroke-width="1.0"/>
<text x="554.70" y="767.32" font-size="16.76" font-weight="normal" font-style="normal" fill="#121212" textLength="21.35" lengthAdjust="spacingAndGlyphs">0.4</text>
<line x1="583.60" y1="796.00" x2="589.50" y2="796.00" stroke="#4a4a4a" stroke-width="1.0"/>
<text x="566.94" y="801.40" font-size="16.76" font-weight="normal" font-style="normal" fill="#121212">0</text>
<line x1="583.60" y1="830.08" x2="589.50" y2="830.08" stroke="#4a4a4a" stroke-width="1.0"/>
<text x="545.74" y="835.48" font-size="16.76" font-weight="normal" font-style="normal" fill="#121212" textLength="30.31" lengthAdjust="spacingAndGlyphs">−0.4</text>
<line x1="583.60" y1="864.16" x2="589.50" y2="864.16" stroke="#4a4a4a" stroke-width="1.0"/>
<text x="545.74" y="869.56" font-size="16.76" font-weight="normal" font-style="normal" fill="#121212" textLength="30.53" lengthAdjust="spacingAndGlyphs">−0.8</text>
<rect x="596.60" y="784.40" width="42.80" height="11.60" fill="#9a9a9a"/>
<rect x="644.00" y="783.00" width="43.00" height="13.00" fill="#9a9a9a"/>
<rect x="707.20" y="796.00" width="42.80" height="5.00" fill="#9a9a9a"/>
<line x1="755.00" y1="796.20" x2="798.00" y2="796.20" stroke="#9a9a9a" stroke-width="1.3"/>
<line x1="611.00" y1="780.60" x2="625.00" y2="780.60" stroke="#111" stroke-width="1.0"/>
<line x1="611.00" y1="787.40" x2="625.00" y2="787.40" stroke="#111" stroke-width="1.0"/>
<line x1="618.00" y1="780.60" x2="618.00" y2="787.40" stroke="#111" stroke-width="1.0"/>
<rect x="617.20" y="734.80" width="1.60" height="1.6" fill="#111"/>
<rect x="617.20" y="763.60" width="1.60" height="1.6" fill="#111"/>
<rect x="617.20" y="771.60" width="1.60" height="1.6" fill="#111"/>
<rect x="616.70" y="779.80" width="2.60" height="1.6" fill="#111"/>
<rect x="616.70" y="786.60" width="2.60" height="1.6" fill="#111"/>
<rect x="616.40" y="792.70" width="3.20" height="1.6" fill="#111"/>
<line x1="658.60" y1="779.40" x2="672.60" y2="779.40" stroke="#111" stroke-width="1.0"/>
<line x1="658.60" y1="786.20" x2="672.60" y2="786.20" stroke="#111" stroke-width="1.0"/>
<line x1="665.60" y1="779.40" x2="665.60" y2="786.20" stroke="#111" stroke-width="1.0"/>
<rect x="664.30" y="761.20" width="2.60" height="1.6" fill="#111"/>
<rect x="664.30" y="773.40" width="2.60" height="1.6" fill="#111"/>
<rect x="664.30" y="778.60" width="2.60" height="1.6" fill="#111"/>
<rect x="664.30" y="785.40" width="2.60" height="1.6" fill="#111"/>
<rect x="664.30" y="795.20" width="2.60" height="1.6" fill="#111"/>
<rect x="664.80" y="805.60" width="1.60" height="1.6" fill="#111"/>
<rect x="664.80" y="817.60" width="1.60" height="1.6" fill="#111"/>
<line x1="721.60" y1="796.60" x2="735.60" y2="796.60" stroke="#111" stroke-width="1.0"/>
<line x1="721.60" y1="804.40" x2="735.60" y2="804.40" stroke="#111" stroke-width="1.0"/>
<line x1="728.60" y1="796.60" x2="728.60" y2="804.40" stroke="#111" stroke-width="1.0"/>
<rect x="727.80" y="766.20" width="1.60" height="1.6" fill="#111"/>
<rect x="727.30" y="774.60" width="2.60" height="1.6" fill="#111"/>
<rect x="727.30" y="791.20" width="2.60" height="1.6" fill="#111"/>
<rect x="727.30" y="802.20" width="2.60" height="1.6" fill="#111"/>
<rect x="727.00" y="807.40" width="3.20" height="1.6" fill="#111"/>
<rect x="727.80" y="822.30" width="1.60" height="1.6" fill="#111"/>
<rect x="727.80" y="837.30" width="1.60" height="1.6" fill="#111"/>
<line x1="769.40" y1="791.60" x2="783.40" y2="791.60" stroke="#111" stroke-width="1.0"/>
<line x1="769.40" y1="802.40" x2="783.40" y2="802.40" stroke="#111" stroke-width="1.0"/>
<line x1="776.40" y1="791.60" x2="776.40" y2="802.40" stroke="#111" stroke-width="1.0"/>
<rect x="775.60" y="742.60" width="1.60" height="1.6" fill="#111"/>
<rect x="775.10" y="775.80" width="2.60" height="1.6" fill="#111"/>
<rect x="775.10" y="778.60" width="2.60" height="1.6" fill="#111"/>
<rect x="775.10" y="788.20" width="2.60" height="1.6" fill="#111"/>
<rect x="775.10" y="799.20" width="2.60" height="1.6" fill="#111"/>
<rect x="775.10" y="810.70" width="2.60" height="1.6" fill="#111"/>
<rect x="775.60" y="827.00" width="1.60" height="1.6" fill="#111"/>
<rect x="775.60" y="839.90" width="1.60" height="1.6" fill="#111"/>
<rect x="775.60" y="848.90" width="1.60" height="1.6" fill="#111"/>
<line x1="618.00" y1="889.00" x2="618.00" y2="893.70" stroke="#4a4a4a" stroke-width="1.0"/>
<line x1="665.50" y1="889.00" x2="665.50" y2="893.70" stroke="#4a4a4a" stroke-width="1.0"/>
<line x1="728.80" y1="889.00" x2="728.80" y2="893.70" stroke="#4a4a4a" stroke-width="1.0"/>
<line x1="776.00" y1="889.00" x2="776.00" y2="893.70" stroke="#4a4a4a" stroke-width="1.0"/>
<text x="613.66" y="913.60" font-size="14.68" font-weight="normal" font-style="normal" fill="#121212">L</text>
<text x="660.14" y="913.60" font-size="14.68" font-weight="normal" font-style="normal" fill="#121212">R</text>
<text x="724.46" y="913.60" font-size="14.68" font-weight="normal" font-style="normal" fill="#121212">L</text>
<text x="770.54" y="913.60" font-size="14.68" font-weight="normal" font-style="normal" fill="#121212">R</text>
<text x="637.62" y="942.20" font-size="16.86" font-weight="normal" font-style="normal" fill="#121212" textLength="117.98" lengthAdjust="spacingAndGlyphs">Hippocampus</text>
<text transform="translate(531.10,893.50) rotate(-90)" x="-1.49" y="0" font-size="16.84" fill="#121212" textLength="199.41" lengthAdjust="spacingAndGlyphs">BOLD (% signal change)</text>
<line x1="641.60" y1="718.40" x2="752.40" y2="718.40" stroke="#505050" stroke-width="1.0"/>
<path d="M697.00,712.43 L697.00,709.47 M697.00,712.43 L699.81,711.52 M697.00,712.43 L698.74,714.82 M697.00,712.43 L695.26,714.82 M697.00,712.43 L694.19,711.52 " stroke="#111" stroke-width="1.55" stroke-linecap="round" fill="none"/>
<path d="M619.60,727.43 L619.60,724.47 M619.60,727.43 L622.41,726.52 M619.60,727.43 L621.34,729.82 M619.60,727.43 L617.86,729.82 M619.60,727.43 L616.79,726.52 " stroke="#111" stroke-width="1.55" stroke-linecap="round" fill="none"/>
<path d="M667.40,727.43 L667.40,724.47 M667.40,727.43 L670.21,726.52 M667.40,727.43 L669.14,729.82 M667.40,727.43 L665.66,729.82 M667.40,727.43 L664.59,726.52 " stroke="#111" stroke-width="1.55" stroke-linecap="round" fill="none"/>
<text x="856.58" y="668.95" font-size="25.80" font-weight="bold" font-style="normal" fill="#000" textLength="17.49" lengthAdjust="spacingAndGlyphs" stroke="#000" stroke-width="0.7">g</text>
<line x1="931.70" y1="688.75" x2="931.70" y2="889.50" stroke="#4a4a4a" stroke-width="1.0"/>
<line x1="931.20" y1="889.00" x2="1085.00" y2="889.00" stroke="#4a4a4a" stroke-width="1.0"/>
<line x1="926.00" y1="743.20" x2="931.70" y2="743.20" stroke="#4a4a4a" stroke-width="1.0"/>
<text x="896.59" y="748.60" font-size="16.76" font-weight="normal" font-style="normal" fill="#121212" textLength="21.69" lengthAdjust="spacingAndGlyphs">0.8</text>
<line x1="926.00" y1="788.80" x2="931.70" y2="788.80" stroke="#4a4a4a" stroke-width="1.0"/>
<text x="896.60" y="794.20" font-size="16.76" font-weight="normal" font-style="normal" fill="#121212" textLength="21.46" lengthAdjust="spacingAndGlyphs">0.4</text>
<line x1="926.00" y1="834.40" x2="931.70" y2="834.40" stroke="#4a4a4a" stroke-width="1.0"/>
<text x="908.94" y="839.80" font-size="16.76" font-weight="normal" font-style="normal" fill="#121212">0</text>
<line x1="926.00" y1="880.00" x2="931.70" y2="880.00" stroke="#4a4a4a" stroke-width="1.0"/>
<text x="888.26" y="885.40" font-size="16.76" font-weight="normal" font-style="normal" fill="#121212" textLength="29.79" lengthAdjust="spacingAndGlyphs">−0.4</text>
<rect x="939.20" y="811.70" width="42.70" height="22.70" fill="#cf4b31"/>
<rect x="986.50" y="826.25" width="43.10" height="8.15" fill="#57b4e8"/>
<rect x="1034.40" y="822.30" width="43.30" height="12.10" fill="#ebae46"/>
<line x1="953.40" y1="806.50" x2="967.40" y2="806.50" stroke="#111" stroke-width="1.0"/>
<line x1="953.40" y1="817.10" x2="967.40" y2="817.10" stroke="#111" stroke-width="1.0"/>
<line x1="960.40" y1="806.50" x2="960.40" y2="817.10" stroke="#111" stroke-width="1.0"/>
<rect x="959.60" y="737.30" width="1.60" height="1.6" fill="#111"/>
<rect x="959.10" y="787.10" width="2.60" height="1.6" fill="#111"/>
<rect x="959.40" y="799.60" width="2.00" height="1.6" fill="#111"/>
<rect x="959.10" y="807.95" width="2.60" height="1.6" fill="#111"/>
<rect x="959.10" y="815.00" width="2.60" height="1.6" fill="#111"/>
<rect x="959.10" y="823.40" width="2.60" height="1.6" fill="#111"/>
<rect x="959.10" y="829.80" width="2.60" height="1.6" fill="#111"/>
<rect x="959.60" y="840.00" width="1.60" height="1.6" fill="#111"/>
<rect x="959.60" y="847.50" width="1.60" height="1.6" fill="#111"/>
<line x1="1001.30" y1="822.30" x2="1015.30" y2="822.30" stroke="#111" stroke-width="1.0"/>
<line x1="1001.30" y1="830.40" x2="1015.30" y2="830.40" stroke="#111" stroke-width="1.0"/>
<line x1="1008.30" y1="822.30" x2="1008.30" y2="830.40" stroke="#111" stroke-width="1.0"/>
<rect x="1007.00" y="793.20" width="2.60" height="1.6" fill="#111"/>
<rect x="1007.50" y="809.80" width="1.60" height="1.6" fill="#111"/>
<rect x="1007.00" y="817.30" width="2.60" height="1.6" fill="#111"/>
<rect x="1007.00" y="823.60" width="2.60" height="1.6" fill="#111"/>
<rect x="1007.00" y="829.20" width="2.60" height="1.6" fill="#111"/>
<rect x="1006.70" y="833.40" width="3.20" height="1.6" fill="#111"/>
<rect x="1007.00" y="842.30" width="2.60" height="1.6" fill="#111"/>
<rect x="1007.50" y="852.10" width="1.60" height="1.6" fill="#111"/>
<line x1="1049.25" y1="816.90" x2="1063.25" y2="816.90" stroke="#111" stroke-width="1.0"/>
<line x1="1049.25" y1="828.30" x2="1063.25" y2="828.30" stroke="#111" stroke-width="1.0"/>
<line x1="1056.25" y1="816.90" x2="1056.25" y2="828.30" stroke="#111" stroke-width="1.0"/>
<rect x="1055.45" y="744.20" width="1.60" height="1.6" fill="#111"/>
<rect x="1055.45" y="781.30" width="1.60" height="1.6" fill="#111"/>
<rect x="1055.45" y="799.60" width="1.60" height="1.6" fill="#111"/>
<rect x="1055.45" y="809.40" width="1.60" height="1.6" fill="#111"/>
<rect x="1054.95" y="817.70" width="2.60" height="1.6" fill="#111"/>
<rect x="1054.95" y="821.90" width="2.60" height="1.6" fill="#111"/>
<rect x="1054.95" y="832.70" width="2.60" height="1.6" fill="#111"/>
<rect x="1054.95" y="841.30" width="2.60" height="1.6" fill="#111"/>
<rect x="1054.95" y="852.70" width="2.60" height="1.6" fill="#111"/>
<line x1="960.40" y1="889.00" x2="960.40" y2="894.60" stroke="#4a4a4a" stroke-width="1.0"/>
<line x1="1008.30" y1="889.00" x2="1008.30" y2="894.60" stroke="#4a4a4a" stroke-width="1.0"/>
<line x1="1056.25" y1="889.00" x2="1056.25" y2="894.60" stroke="#4a4a4a" stroke-width="1.0"/>
<text x="948.97" y="913.75" font-size="14.17" font-weight="normal" font-style="normal" fill="#121212" textLength="23.04" lengthAdjust="spacingAndGlyphs">Ant</text>
<text x="994.00" y="913.75" font-size="14.17" font-weight="normal" font-style="normal" fill="#121212" textLength="27.50" lengthAdjust="spacingAndGlyphs">Mid</text>
<text x="1040.00" y="913.75" font-size="14.17" font-weight="normal" font-style="normal" fill="#121212" textLength="30.51" lengthAdjust="spacingAndGlyphs">Post</text>
<text x="931.72" y="942.10" font-size="17.01" font-weight="normal" font-style="normal" fill="#121212" textLength="152.28" lengthAdjust="spacingAndGlyphs">Left hippocampus</text>
<text transform="translate(872.10,887.40) rotate(-90)" x="-1.49" y="0" font-size="16.97" fill="#121212" textLength="200.22" lengthAdjust="spacingAndGlyphs">BOLD (% signal change)</text>
<line x1="955.20" y1="689.80" x2="1060.40" y2="689.80" stroke="#505050" stroke-width="1.0"/>
<path d="M1004.60,683.98 L1004.60,680.87 M1004.60,683.98 L1007.56,683.02 M1004.60,683.98 L1006.43,686.49 M1004.60,683.98 L1002.77,686.49 M1004.60,683.98 L1001.64,683.02 " stroke="#111" stroke-width="1.55" stroke-linecap="round" fill="none"/>
<line x1="955.20" y1="711.70" x2="1007.90" y2="711.70" stroke="#505050" stroke-width="1.0"/>
<path d="M979.60,705.88 L979.60,702.77 M979.60,705.88 L982.56,704.92 M979.60,705.88 L981.43,708.39 M979.60,705.88 L977.77,708.39 M979.60,705.88 L976.64,704.92 " stroke="#111" stroke-width="1.55" stroke-linecap="round" fill="none"/>
<text x="-0.82" y="668.95" font-size="25.80" font-weight="bold" font-style="normal" fill="#000" textLength="16.70" lengthAdjust="spacingAndGlyphs" stroke="#000" stroke-width="0.7">e</text>
<text x="194.08" y="723.40" font-size="19.19" font-weight="normal" font-style="normal" fill="#121212" textLength="52.75" lengthAdjust="spacingAndGlyphs">Sham</text>
<text x="85.14" y="741.90" font-size="19.62" font-weight="normal" font-style="normal" fill="#121212" textLength="64.61" lengthAdjust="spacingAndGlyphs">Encode</text>
<text x="303.23" y="741.90" font-size="19.33" font-weight="normal" font-style="normal" fill="#121212" textLength="53.25" lengthAdjust="spacingAndGlyphs">Recall</text>
<defs><linearGradient id="cbt" x1="0" y1="0" x2="0" y2="1">
<stop offset="0" stop-color="#ffe600"/><stop offset="0.45" stop-color="#f5a000"/><stop offset="0.75" stop-color="#ec5a10"/><stop offset="1" stop-color="#e5141c"/></linearGradient>
<linearGradient id="cbb" x1="0" y1="0" x2="0" y2="1">
<stop offset="0" stop-color="#3e4897"/><stop offset="0.35" stop-color="#3858a8"/><stop offset="0.55" stop-color="#1f86c4"/><stop offset="0.75" stop-color="#16a4a8"/><stop offset="1" stop-color="#6ebd75"/></linearGradient></defs>
<rect x="429.20" y="783.00" width="13.00" height="44.70" fill="url(#cbt)"/>
<rect x="429.20" y="827.70" width="13.00" height="45.10" fill="url(#cbb)"/>
<text x="407.92" y="773.00" font-size="16.13" font-weight="normal" font-style="italic" fill="#121212">Z</text>
<text x="417.65" y="773.00" font-size="22.30" font-weight="normal" font-style="normal" fill="#121212" textLength="53.20" lengthAdjust="spacingAndGlyphs">-score</text>
<text x="448.90" y="796.10" font-size="15.90" font-weight="normal" font-style="normal" fill="#121212" textLength="9.88" lengthAdjust="spacingAndGlyphs">6</text>
<text x="449.31" y="833.20" font-size="16.18" font-weight="normal" font-style="normal" fill="#121212" textLength="17.92" lengthAdjust="spacingAndGlyphs">3.1</text>
<text x="449.25" y="872.00" font-size="15.75" font-weight="normal" font-style="normal" fill="#121212" textLength="17.43" lengthAdjust="spacingAndGlyphs">−6</text>
<defs><filter id="wmt" x="0" y="0" width="100%" height="100%" color-interpolation-filters="sRGB">
<feTurbulence type="fractalNoise" baseFrequency="0.25" numOctaves="2" seed="3"/>
<feColorMatrix type="matrix" values="0 0 0 0 0.4  0 0 0 0 0.4  0 0 0 0 0.4  0.6 0 0 0 -0.22"/></filter>
<filter id="mb" x="-5%" y="-5%" width="110%" height="110%"><feGaussianBlur stdDeviation="0.55"/></filter></defs>
<g>
<defs><clipPath id="cc1"><path d="M46.4,835.7 C44.8,832.1 43.7,826.3 43.4,822.0 C43.1,817.7 43.9,813.3 44.5,810.0 C45.1,806.7 46.0,804.7 47.2,802.0 C48.4,799.3 49.7,796.5 51.5,794.0 C53.3,791.5 55.6,789.0 57.9,786.7 C60.1,784.4 62.5,782.0 65.0,780.0 C67.5,778.0 70.4,776.2 73.2,774.5 C76.0,772.8 78.9,771.0 82.0,769.5 C85.1,768.0 88.5,766.5 91.6,765.3 C94.7,764.1 97.4,763.3 100.5,762.5 C103.6,761.7 107.1,761.4 110.0,760.7 C112.9,760.0 115.2,759.1 118.0,758.5 C120.8,757.9 123.5,757.3 126.8,756.9 C130.1,756.5 133.7,755.9 137.5,756.1 C141.3,756.4 145.5,757.0 149.8,758.4 C154.1,759.8 159.2,761.8 163.5,764.5 C167.8,767.2 172.2,770.8 175.8,774.5 C179.4,778.2 182.2,782.4 185.0,786.7 C187.8,791.0 190.6,795.9 192.6,800.5 C194.6,805.1 196.2,809.9 197.2,814.3 C198.2,818.6 198.8,822.5 198.8,826.6 C198.8,830.7 198.2,835.6 197.2,838.8 C196.2,842.0 194.6,844.2 192.6,845.7 C190.6,847.2 187.9,848.0 185.0,848.0 C182.1,848.0 179.1,846.8 175.0,846.0 C170.9,845.2 165.5,843.2 160.5,843.0 C155.5,842.8 149.2,843.8 145.0,845.0 C140.8,846.2 138.5,848.3 135.0,850.0 C131.5,851.7 127.8,854.0 124.0,855.0 C120.2,856.0 116.0,856.0 112.0,856.0 C108.0,856.0 103.9,855.5 100.0,855.0 C96.1,854.5 92.2,853.7 88.5,853.3 C84.8,852.9 81.6,853.2 77.8,852.6 C74.0,852.0 69.7,851.0 65.6,849.5 C61.5,848.0 56.5,845.7 53.3,843.4 C50.1,841.1 48.0,839.3 46.4,835.7 Z"/></clipPath><clipPath id="cb1"><path d="M123.7,858.0 C123.6,855.8 125.5,852.9 127.0,851.0 C128.6,849.1 130.8,847.8 133.0,846.5 C135.2,845.2 137.2,844.2 140.0,843.5 C142.8,842.8 146.6,842.3 150.0,842.0 C153.4,841.7 157.2,841.5 160.5,841.6 C163.8,841.7 166.7,841.9 170.0,842.5 C173.3,843.1 177.7,843.8 180.4,845.0 C183.1,846.2 184.8,848.0 186.0,850.0 C187.2,852.0 187.4,854.3 187.5,857.0 C187.6,859.7 187.2,863.8 186.5,866.4 C185.8,869.0 184.3,870.7 183.0,872.5 C181.7,874.3 180.7,875.7 178.9,877.1 C177.1,878.5 174.3,880.0 172.0,881.0 C169.7,882.0 167.4,882.8 165.1,883.2 C162.8,883.6 160.3,883.5 158.0,883.2 C155.7,883.0 153.5,882.5 151.3,881.7 C149.1,880.9 147.1,879.8 145.0,878.5 C142.9,877.2 141.0,875.5 139.0,874.0 C137.0,872.5 134.9,871.1 133.0,869.5 C131.1,867.9 129.1,866.4 127.5,864.5 C126.0,862.6 123.8,860.2 123.7,858.0 Z"/></clipPath></defs>
<path d="M84.0,851.0 C82.5,852.2 85.0,854.9 86.0,857.0 C87.0,859.1 87.8,861.7 90.0,863.5 C92.2,865.3 95.9,867.1 99.2,868.0 C102.5,868.9 106.7,869.4 110.0,868.7 C113.3,868.0 116.9,866.0 119.2,864.0 C121.5,862.0 123.5,859.2 124.0,857.0 C124.5,854.8 124.3,852.2 122.0,851.0 C119.7,849.8 114.5,850.2 110.0,850.0 C105.5,849.8 99.3,849.8 95.0,850.0 C90.7,850.2 85.5,849.8 84.0,851.0 Z" fill="#3a3a3a"/>
<path d="M119.0,850.0 C118.3,851.3 122.3,853.7 124.0,856.0 C125.7,858.3 127.4,861.3 129.0,864.0 C130.6,866.7 132.2,869.5 133.5,872.0 C134.8,874.5 136.0,876.9 137.0,879.0 C138.0,881.1 138.7,883.1 139.5,884.7 C140.3,886.3 140.4,888.1 142.1,888.8 C143.8,889.5 148.7,889.9 149.8,888.8 C151.0,887.7 149.6,884.5 149.0,882.0 C148.4,879.5 147.4,876.7 146.5,874.0 C145.6,871.3 144.6,868.7 143.6,866.0 C142.6,863.3 141.6,860.3 140.5,858.0 C139.4,855.7 139.1,853.7 137.0,852.0 C134.9,850.3 131.0,848.3 128.0,848.0 C125.0,847.7 119.7,848.7 119.0,850.0 Z" fill="#7a7a7a" stroke="#3a3a3a" stroke-width="1.2"/>
<g clip-path="url(#cc1)">
<path d="M46.4,835.7 C44.8,832.1 43.7,826.3 43.4,822.0 C43.1,817.7 43.9,813.3 44.5,810.0 C45.1,806.7 46.0,804.7 47.2,802.0 C48.4,799.3 49.7,796.5 51.5,794.0 C53.3,791.5 55.6,789.0 57.9,786.7 C60.1,784.4 62.5,782.0 65.0,780.0 C67.5,778.0 70.4,776.2 73.2,774.5 C76.0,772.8 78.9,771.0 82.0,769.5 C85.1,768.0 88.5,766.5 91.6,765.3 C94.7,764.1 97.4,763.3 100.5,762.5 C103.6,761.7 107.1,761.4 110.0,760.7 C112.9,760.0 115.2,759.1 118.0,758.5 C120.8,757.9 123.5,757.3 126.8,756.9 C130.1,756.5 133.7,755.9 137.5,756.1 C141.3,756.4 145.5,757.0 149.8,758.4 C154.1,759.8 159.2,761.8 163.5,764.5 C167.8,767.2 172.2,770.8 175.8,774.5 C179.4,778.2 182.2,782.4 185.0,786.7 C187.8,791.0 190.6,795.9 192.6,800.5 C194.6,805.1 196.2,809.9 197.2,814.3 C198.2,818.6 198.8,822.5 198.8,826.6 C198.8,830.7 198.2,835.6 197.2,838.8 C196.2,842.0 194.6,844.2 192.6,845.7 C190.6,847.2 187.9,848.0 185.0,848.0 C182.1,848.0 179.1,846.8 175.0,846.0 C170.9,845.2 165.5,843.2 160.5,843.0 C155.5,842.8 149.2,843.8 145.0,845.0 C140.8,846.2 138.5,848.3 135.0,850.0 C131.5,851.7 127.8,854.0 124.0,855.0 C120.2,856.0 116.0,856.0 112.0,856.0 C108.0,856.0 103.9,855.5 100.0,855.0 C96.1,854.5 92.2,853.7 88.5,853.3 C84.8,852.9 81.6,853.2 77.8,852.6 C74.0,852.0 69.7,851.0 65.6,849.5 C61.5,848.0 56.5,845.7 53.3,843.4 C50.1,841.1 48.0,839.3 46.4,835.7 Z" fill="#e6e6e6"/>
<rect x="40" y="750" width="165" height="110" filter="url(#wmt)" opacity="0.32"/>
<path d="M46.4,835.7 C44.8,832.1 43.7,826.3 43.4,822.0 C43.1,817.7 43.9,813.3 44.5,810.0 C45.1,806.7 46.0,804.7 47.2,802.0 C48.4,799.3 49.7,796.5 51.5,794.0 C53.3,791.5 55.6,789.0 57.9,786.7 C60.1,784.4 62.5,782.0 65.0,780.0 C67.5,778.0 70.4,776.2 73.2,774.5 C76.0,772.8 78.9,771.0 82.0,769.5 C85.1,768.0 88.5,766.5 91.6,765.3 C94.7,764.1 97.4,763.3 100.5,762.5 C103.6,761.7 107.1,761.4 110.0,760.7 C112.9,760.0 115.2,759.1 118.0,758.5 C120.8,757.9 123.5,757.3 126.8,756.9 C130.1,756.5 133.7,755.9 137.5,756.1 C141.3,756.4 145.5,757.0 149.8,758.4 C154.1,759.8 159.2,761.8 163.5,764.5 C167.8,767.2 172.2,770.8 175.8,774.5 C179.4,778.2 182.2,782.4 185.0,786.7 C187.8,791.0 190.6,795.9 192.6,800.5 C194.6,805.1 196.2,809.9 197.2,814.3 C198.2,818.6 198.8,822.5 198.8,826.6 C198.8,830.7 198.2,835.6 197.2,838.8 C196.2,842.0 194.6,844.2 192.6,845.7 C190.6,847.2 187.9,848.0 185.0,848.0 C182.1,848.0 179.1,846.8 175.0,846.0 C170.9,845.2 165.5,843.2 160.5,843.0 C155.5,842.8 149.2,843.8 145.0,845.0 C140.8,846.2 138.5,848.3 135.0,850.0 C131.5,851.7 127.8,854.0 124.0,855.0 C120.2,856.0 116.0,856.0 112.0,856.0 C108.0,856.0 103.9,855.5 100.0,855.0 C96.1,854.5 92.2,853.7 88.5,853.3 C84.8,852.9 81.6,853.2 77.8,852.6 C74.0,852.0 69.7,851.0 65.6,849.5 C61.5,848.0 56.5,845.7 53.3,843.4 C50.1,841.1 48.0,839.3 46.4,835.7 Z" fill="none" stroke="#8c8c8c" stroke-width="21"/>
<g filter="url(#mb)">
<line x1="49.84" y1="829.08" x2="57.96" y2="827.80" stroke="#d2d2d2" stroke-width="3.0" stroke-linecap="round"/>
<line x1="45.32" y1="823.84" x2="52.26" y2="823.30" stroke="#404040" stroke-width="2.1" stroke-linecap="round"/>
<line x1="49.17" y1="818.00" x2="56.77" y2="818.00" stroke="#d2d2d2" stroke-width="3.0" stroke-linecap="round"/>
<line x1="45.81" y1="812.12" x2="52.42" y2="812.64" stroke="#404040" stroke-width="2.1" stroke-linecap="round"/>
<line x1="50.65" y1="806.78" x2="58.68" y2="808.08" stroke="#d2d2d2" stroke-width="3.0" stroke-linecap="round"/>
<line x1="49.61" y1="800.58" x2="56.46" y2="802.28" stroke="#404040" stroke-width="2.1" stroke-linecap="round"/>
<line x1="55.23" y1="796.30" x2="63.35" y2="799.02" stroke="#d2d2d2" stroke-width="3.0" stroke-linecap="round"/>
<line x1="56.43" y1="790.54" x2="62.67" y2="793.23" stroke="#404040" stroke-width="2.1" stroke-linecap="round"/>
<line x1="63.89" y1="787.60" x2="70.91" y2="791.40" stroke="#d2d2d2" stroke-width="3.0" stroke-linecap="round"/>
<line x1="65.46" y1="781.58" x2="71.92" y2="785.90" stroke="#404040" stroke-width="2.1" stroke-linecap="round"/>
<line x1="72.91" y1="779.67" x2="79.64" y2="785.15" stroke="#d2d2d2" stroke-width="3.0" stroke-linecap="round"/>
<line x1="76.03" y1="774.55" x2="80.34" y2="778.81" stroke="#404040" stroke-width="2.1" stroke-linecap="round"/>
<line x1="83.01" y1="773.81" x2="88.58" y2="780.47" stroke="#d2d2d2" stroke-width="3.0" stroke-linecap="round"/>
<line x1="86.68" y1="769.06" x2="91.09" y2="775.54" stroke="#404040" stroke-width="2.1" stroke-linecap="round"/>
<line x1="94.02" y1="769.79" x2="97.77" y2="776.74" stroke="#d2d2d2" stroke-width="3.0" stroke-linecap="round"/>
<line x1="98.10" y1="764.82" x2="100.06" y2="769.58" stroke="#404040" stroke-width="2.1" stroke-linecap="round"/>
<line x1="105.20" y1="767.16" x2="107.30" y2="774.38" stroke="#d2d2d2" stroke-width="3.0" stroke-linecap="round"/>
<line x1="110.26" y1="762.18" x2="111.70" y2="770.43" stroke="#404040" stroke-width="2.1" stroke-linecap="round"/>
<line x1="116.34" y1="764.09" x2="116.88" y2="772.02" stroke="#d2d2d2" stroke-width="3.0" stroke-linecap="round"/>
<line x1="122.34" y1="759.20" x2="122.06" y2="766.35" stroke="#404040" stroke-width="2.1" stroke-linecap="round"/>
<line x1="128.30" y1="761.10" x2="127.06" y2="769.60" stroke="#d2d2d2" stroke-width="3.0" stroke-linecap="round"/>
<line x1="135.00" y1="757.72" x2="133.78" y2="762.62" stroke="#404040" stroke-width="2.1" stroke-linecap="round"/>
<line x1="139.97" y1="761.47" x2="137.27" y2="769.12" stroke="#d2d2d2" stroke-width="3.0" stroke-linecap="round"/>
<line x1="147.12" y1="759.38" x2="144.93" y2="764.11" stroke="#404040" stroke-width="2.1" stroke-linecap="round"/>
<line x1="151.48" y1="763.99" x2="147.17" y2="771.37" stroke="#d2d2d2" stroke-width="3.0" stroke-linecap="round"/>
<line x1="158.71" y1="763.98" x2="155.31" y2="768.73" stroke="#404040" stroke-width="2.1" stroke-linecap="round"/>
<line x1="162.37" y1="769.04" x2="156.63" y2="775.66" stroke="#d2d2d2" stroke-width="3.0" stroke-linecap="round"/>
<line x1="168.98" y1="770.87" x2="164.21" y2="775.47" stroke="#404040" stroke-width="2.1" stroke-linecap="round"/>
<line x1="171.26" y1="776.82" x2="164.85" y2="781.97" stroke="#d2d2d2" stroke-width="3.0" stroke-linecap="round"/>
<line x1="177.62" y1="779.40" x2="171.02" y2="783.83" stroke="#404040" stroke-width="2.1" stroke-linecap="round"/>
<line x1="178.28" y1="785.80" x2="171.17" y2="789.73" stroke="#d2d2d2" stroke-width="3.0" stroke-linecap="round"/>
<line x1="184.64" y1="789.15" x2="178.03" y2="792.10" stroke="#404040" stroke-width="2.1" stroke-linecap="round"/>
<line x1="184.47" y1="795.65" x2="176.77" y2="798.32" stroke="#d2d2d2" stroke-width="3.0" stroke-linecap="round"/>
<line x1="190.64" y1="799.95" x2="183.55" y2="801.76" stroke="#404040" stroke-width="2.1" stroke-linecap="round"/>
<line x1="189.52" y1="806.23" x2="181.43" y2="807.60" stroke="#d2d2d2" stroke-width="3.0" stroke-linecap="round"/>
<line x1="194.72" y1="811.47" x2="188.77" y2="811.99" stroke="#404040" stroke-width="2.1" stroke-linecap="round"/>
<line x1="192.10" y1="817.42" x2="184.60" y2="817.48" stroke="#d2d2d2" stroke-width="3.0" stroke-linecap="round"/>
<line x1="196.90" y1="823.42" x2="188.44" y2="822.82" stroke="#404040" stroke-width="2.1" stroke-linecap="round"/>
<line x1="193.17" y1="828.87" x2="185.54" y2="827.74" stroke="#d2d2d2" stroke-width="3.0" stroke-linecap="round"/>
<line x1="196.14" y1="835.42" x2="188.85" y2="833.75" stroke="#404040" stroke-width="2.1" stroke-linecap="round"/>
<line x1="191.07" y1="840.02" x2="183.06" y2="837.54" stroke="#d2d2d2" stroke-width="3.0" stroke-linecap="round"/>
<line x1="190.12" y1="845.48" x2="184.71" y2="843.36" stroke="#404040" stroke-width="2.1" stroke-linecap="round"/>
<line x1="181.91" y1="845.80" x2="174.23" y2="842.35" stroke="#d2d2d2" stroke-width="3.0" stroke-linecap="round"/>
<line x1="178.65" y1="846.35" x2="173.93" y2="844.06" stroke="#404040" stroke-width="2.1" stroke-linecap="round"/>
<line x1="169.34" y1="843.41" x2="162.41" y2="839.83" stroke="#d2d2d2" stroke-width="3.0" stroke-linecap="round"/>
<line x1="166.44" y1="843.77" x2="160.84" y2="840.67" stroke="#404040" stroke-width="2.1" stroke-linecap="round"/>
<line x1="157.00" y1="840.46" x2="150.42" y2="836.47" stroke="#d2d2d2" stroke-width="3.0" stroke-linecap="round"/>
<line x1="154.12" y1="842.79" x2="148.98" y2="839.05" stroke="#404040" stroke-width="2.1" stroke-linecap="round"/>
<line x1="145.10" y1="840.81" x2="139.51" y2="835.73" stroke="#d2d2d2" stroke-width="3.0" stroke-linecap="round"/>
<line x1="142.22" y1="844.76" x2="137.13" y2="838.63" stroke="#404040" stroke-width="2.1" stroke-linecap="round"/>
<line x1="135.62" y1="845.00" x2="131.22" y2="837.38" stroke="#d2d2d2" stroke-width="3.0" stroke-linecap="round"/>
<line x1="131.73" y1="849.84" x2="129.75" y2="844.46" stroke="#404040" stroke-width="2.1" stroke-linecap="round"/>
<line x1="125.75" y1="848.46" x2="124.34" y2="840.98" stroke="#d2d2d2" stroke-width="3.0" stroke-linecap="round"/>
<line x1="120.96" y1="853.75" x2="120.78" y2="847.11" stroke="#404040" stroke-width="2.1" stroke-linecap="round"/>
<line x1="115.72" y1="850.32" x2="116.71" y2="842.86" stroke="#d2d2d2" stroke-width="3.0" stroke-linecap="round"/>
<line x1="109.42" y1="854.31" x2="111.21" y2="848.17" stroke="#404040" stroke-width="2.1" stroke-linecap="round"/>
<line x1="104.78" y1="851.34" x2="108.40" y2="843.42" stroke="#d2d2d2" stroke-width="3.0" stroke-linecap="round"/>
<line x1="97.67" y1="853.27" x2="101.52" y2="847.18" stroke="#404040" stroke-width="2.1" stroke-linecap="round"/>
<line x1="93.91" y1="849.59" x2="98.87" y2="843.59" stroke="#d2d2d2" stroke-width="3.0" stroke-linecap="round"/>
<line x1="85.29" y1="851.97" x2="89.54" y2="847.81" stroke="#404040" stroke-width="2.1" stroke-linecap="round"/>
<line x1="81.14" y1="849.87" x2="87.85" y2="844.36" stroke="#d2d2d2" stroke-width="3.0" stroke-linecap="round"/>
<line x1="72.94" y1="850.20" x2="78.03" y2="846.72" stroke="#404040" stroke-width="2.1" stroke-linecap="round"/>
<line x1="70.32" y1="846.77" x2="76.85" y2="842.99" stroke="#d2d2d2" stroke-width="3.0" stroke-linecap="round"/>
<line x1="61.28" y1="846.04" x2="68.18" y2="842.74" stroke="#404040" stroke-width="2.1" stroke-linecap="round"/>
<line x1="58.30" y1="842.28" x2="66.34" y2="839.11" stroke="#d2d2d2" stroke-width="3.0" stroke-linecap="round"/>
<line x1="51.28" y1="839.11" x2="56.89" y2="837.39" stroke="#404040" stroke-width="2.1" stroke-linecap="round"/>
</g>
<path d="M46.4,835.7 C44.8,832.1 43.7,826.3 43.4,822.0 C43.1,817.7 43.9,813.3 44.5,810.0 C45.1,806.7 46.0,804.7 47.2,802.0 C48.4,799.3 49.7,796.5 51.5,794.0 C53.3,791.5 55.6,789.0 57.9,786.7 C60.1,784.4 62.5,782.0 65.0,780.0 C67.5,778.0 70.4,776.2 73.2,774.5 C76.0,772.8 78.9,771.0 82.0,769.5 C85.1,768.0 88.5,766.5 91.6,765.3 C94.7,764.1 97.4,763.3 100.5,762.5 C103.6,761.7 107.1,761.4 110.0,760.7 C112.9,760.0 115.2,759.1 118.0,758.5 C120.8,757.9 123.5,757.3 126.8,756.9 C130.1,756.5 133.7,755.9 137.5,756.1 C141.3,756.4 145.5,757.0 149.8,758.4 C154.1,759.8 159.2,761.8 163.5,764.5 C167.8,767.2 172.2,770.8 175.8,774.5 C179.4,778.2 182.2,782.4 185.0,786.7 C187.8,791.0 190.6,795.9 192.6,800.5 C194.6,805.1 196.2,809.9 197.2,814.3 C198.2,818.6 198.8,822.5 198.8,826.6 C198.8,830.7 198.2,835.6 197.2,838.8 C196.2,842.0 194.6,844.2 192.6,845.7 C190.6,847.2 187.9,848.0 185.0,848.0 C182.1,848.0 179.1,846.8 175.0,846.0 C170.9,845.2 165.5,843.2 160.5,843.0 C155.5,842.8 149.2,843.8 145.0,845.0 C140.8,846.2 138.5,848.3 135.0,850.0 C131.5,851.7 127.8,854.0 124.0,855.0 C120.2,856.0 116.0,856.0 112.0,856.0 C108.0,856.0 103.9,855.5 100.0,855.0 C96.1,854.5 92.2,853.7 88.5,853.3 C84.8,852.9 81.6,853.2 77.8,852.6 C74.0,852.0 69.7,851.0 65.6,849.5 C61.5,848.0 56.5,845.7 53.3,843.4 C50.1,841.1 48.0,839.3 46.4,835.7 Z" fill="none" stroke="#1c1c1c" stroke-width="5.8"/>
<g filter="url(#mb)">
<ellipse cx="76.5" cy="793" rx="5.0" ry="6.2" fill="#a8a8a8" transform="rotate(-40 76.5 793)"/>
<ellipse cx="76.5" cy="793" rx="3.8" ry="5" fill="#6e6e6e" transform="rotate(-40 76.5 793)"/>
<ellipse cx="87" cy="786" rx="4.8" ry="6.4" fill="#a8a8a8" transform="rotate(-35 87 786)"/>
<ellipse cx="87" cy="786" rx="3.6" ry="5.2" fill="#6e6e6e" transform="rotate(-35 87 786)"/>
<ellipse cx="98.5" cy="781" rx="4.8" ry="6.4" fill="#a8a8a8" transform="rotate(-25 98.5 781)"/>
<ellipse cx="98.5" cy="781" rx="3.6" ry="5.2" fill="#6e6e6e" transform="rotate(-25 98.5 781)"/>
<ellipse cx="110" cy="778" rx="4.4" ry="6.0" fill="#a8a8a8" transform="rotate(-15 110 778)"/>
<ellipse cx="110" cy="778" rx="3.2" ry="4.8" fill="#6e6e6e" transform="rotate(-15 110 778)"/>
<ellipse cx="67" cy="803" rx="4.0" ry="5.2" fill="#a8a8a8" transform="rotate(-60 67 803)"/>
<ellipse cx="67" cy="803" rx="2.8" ry="4" fill="#6e6e6e" transform="rotate(-60 67 803)"/>
<ellipse cx="60" cy="816" rx="3.4000000000000004" ry="4.4" fill="#a8a8a8" transform="rotate(-80 60 816)"/>
<ellipse cx="60" cy="816" rx="2.2" ry="3.2" fill="#6e6e6e" transform="rotate(-80 60 816)"/>
</g>
<ellipse cx="113" cy="825" rx="19" ry="13" fill="#bdbdbd"/>
<ellipse cx="96" cy="832" rx="8" ry="6.5" fill="#8e8e8e"/>
<ellipse cx="118" cy="823" rx="9" ry="8" fill="#cfcfcf"/>
<path d="M86,826 Q92,806 120,804 Q140,803 150,812" fill="none" stroke="#f6f6f6" stroke-width="2.5"/>
<path d="M126.0,806.6 C126.8,806.4 134.2,807.1 136.0,807.5 C137.8,807.9 142.7,809.0 143.6,810.5 C144.5,812.0 145.6,821.1 145.2,822.0 C144.8,822.9 141.2,819.8 140.0,819.0 C138.8,818.2 134.2,814.9 133.0,814.0 C131.8,813.1 128.7,810.7 128.0,810.0 C127.3,809.3 125.2,806.9 126.0,806.6 Z" fill="#585858"/>
<path d="M104,843 Q124,829 148,826 T182,822" fill="none" stroke="#4e4e4e" stroke-width="2.4"/>
<path d="M110,849 Q128,838 152,833 T178,829" fill="none" stroke="#8a8a8a" stroke-width="2.5"/>
<path d="M160,820 Q172,817 180,819" fill="none" stroke="#6a6a6a" stroke-width="3"/>
</g>
<path d="M123.7,858.0 C123.6,855.8 125.5,852.9 127.0,851.0 C128.6,849.1 130.8,847.8 133.0,846.5 C135.2,845.2 137.2,844.2 140.0,843.5 C142.8,842.8 146.6,842.3 150.0,842.0 C153.4,841.7 157.2,841.5 160.5,841.6 C163.8,841.7 166.7,841.9 170.0,842.5 C173.3,843.1 177.7,843.8 180.4,845.0 C183.1,846.2 184.8,848.0 186.0,850.0 C187.2,852.0 187.4,854.3 187.5,857.0 C187.6,859.7 187.2,863.8 186.5,866.4 C185.8,869.0 184.3,870.7 183.0,872.5 C181.7,874.3 180.7,875.7 178.9,877.1 C177.1,878.5 174.3,880.0 172.0,881.0 C169.7,882.0 167.4,882.8 165.1,883.2 C162.8,883.6 160.3,883.5 158.0,883.2 C155.7,883.0 153.5,882.5 151.3,881.7 C149.1,880.9 147.1,879.8 145.0,878.5 C142.9,877.2 141.0,875.5 139.0,874.0 C137.0,872.5 134.9,871.1 133.0,869.5 C131.1,867.9 129.1,866.4 127.5,864.5 C126.0,862.6 123.8,860.2 123.7,858.0 Z" fill="#9c9c9c"/>
<g clip-path="url(#cb1)">
<g filter="url(#mb)">
<ellipse cx="147" cy="862" rx="15" ry="8" fill="#dcdcdc"/>
<line x1="150.59" y1="856.20" x2="159.39" y2="836.89" stroke="#e4e4e4" stroke-width="1.5"/>
<line x1="152.69" y1="856.70" x2="168.66" y2="839.04" stroke="#e4e4e4" stroke-width="1.5"/>
<line x1="154.56" y1="857.47" x2="176.87" y2="842.38" stroke="#e4e4e4" stroke-width="1.5"/>
<line x1="156.09" y1="858.47" x2="183.60" y2="846.72" stroke="#e4e4e4" stroke-width="1.5"/>
<line x1="157.21" y1="859.66" x2="188.50" y2="851.84" stroke="#e4e4e4" stroke-width="1.5"/>
<line x1="157.85" y1="860.96" x2="191.33" y2="857.49" stroke="#e4e4e4" stroke-width="1.5"/>
<line x1="157.99" y1="862.31" x2="191.94" y2="863.36" stroke="#e4e4e4" stroke-width="1.5"/>
<line x1="157.61" y1="863.65" x2="190.30" y2="869.17" stroke="#e4e4e4" stroke-width="1.5"/>
<line x1="156.75" y1="864.91" x2="186.48" y2="874.61" stroke="#e4e4e4" stroke-width="1.5"/>
<line x1="155.43" y1="866.01" x2="180.70" y2="879.40" stroke="#e4e4e4" stroke-width="1.5"/>
<line x1="153.74" y1="866.91" x2="173.24" y2="883.30" stroke="#e4e4e4" stroke-width="1.5"/>
<line x1="151.75" y1="867.56" x2="164.48" y2="886.11" stroke="#e4e4e4" stroke-width="1.5"/>
<line x1="149.56" y1="867.93" x2="154.88" y2="887.68" stroke="#e4e4e4" stroke-width="1.5"/>
<line x1="147.30" y1="867.99" x2="144.93" y2="887.94" stroke="#e4e4e4" stroke-width="1.5"/>
<line x1="145.08" y1="867.74" x2="135.14" y2="886.86" stroke="#e4e4e4" stroke-width="1.5"/>
<line x1="143.00" y1="867.20" x2="126.00" y2="884.52" stroke="#e4e4e4" stroke-width="1.5"/>
<line x1="141.18" y1="866.39" x2="117.99" y2="881.02" stroke="#e4e4e4" stroke-width="1.5"/>
<line x1="139.71" y1="865.36" x2="111.52" y2="876.54" stroke="#e4e4e4" stroke-width="1.5"/>
</g>
<path d="M123.7,858.0 C123.6,855.8 125.5,852.9 127.0,851.0 C128.6,849.1 130.8,847.8 133.0,846.5 C135.2,845.2 137.2,844.2 140.0,843.5 C142.8,842.8 146.6,842.3 150.0,842.0 C153.4,841.7 157.2,841.5 160.5,841.6 C163.8,841.7 166.7,841.9 170.0,842.5 C173.3,843.1 177.7,843.8 180.4,845.0 C183.1,846.2 184.8,848.0 186.0,850.0 C187.2,852.0 187.4,854.3 187.5,857.0 C187.6,859.7 187.2,863.8 186.5,866.4 C185.8,869.0 184.3,870.7 183.0,872.5 C181.7,874.3 180.7,875.7 178.9,877.1 C177.1,878.5 174.3,880.0 172.0,881.0 C169.7,882.0 167.4,882.8 165.1,883.2 C162.8,883.6 160.3,883.5 158.0,883.2 C155.7,883.0 153.5,882.5 151.3,881.7 C149.1,880.9 147.1,879.8 145.0,878.5 C142.9,877.2 141.0,875.5 139.0,874.0 C137.0,872.5 134.9,871.1 133.0,869.5 C131.1,867.9 129.1,866.4 127.5,864.5 C126.0,862.6 123.8,860.2 123.7,858.0 Z" fill="none" stroke="#8a8a8a" stroke-width="4"/>
</g>
<path d="M123.7,858.0 C123.6,855.8 125.5,852.9 127.0,851.0 C128.6,849.1 130.8,847.8 133.0,846.5 C135.2,845.2 137.2,844.2 140.0,843.5 C142.8,842.8 146.6,842.3 150.0,842.0 C153.4,841.7 157.2,841.5 160.5,841.6 C163.8,841.7 166.7,841.9 170.0,842.5 C173.3,843.1 177.7,843.8 180.4,845.0 C183.1,846.2 184.8,848.0 186.0,850.0 C187.2,852.0 187.4,854.3 187.5,857.0 C187.6,859.7 187.2,863.8 186.5,866.4 C185.8,869.0 184.3,870.7 183.0,872.5 C181.7,874.3 180.7,875.7 178.9,877.1 C177.1,878.5 174.3,880.0 172.0,881.0 C169.7,882.0 167.4,882.8 165.1,883.2 C162.8,883.6 160.3,883.5 158.0,883.2 C155.7,883.0 153.5,882.5 151.3,881.7 C149.1,880.9 147.1,879.8 145.0,878.5 C142.9,877.2 141.0,875.5 139.0,874.0 C137.0,872.5 134.9,871.1 133.0,869.5 C131.1,867.9 129.1,866.4 127.5,864.5 C126.0,862.6 123.8,860.2 123.7,858.0 Z" fill="none" stroke="#222" stroke-width="1.5"/>
<defs><filter id="soft" x="-20%" y="-20%" width="140%" height="140%"><feTurbulence type="fractalNoise" baseFrequency="0.4" numOctaves="2" seed="2" result="t"/><feDisplacementMap in="SourceGraphic" in2="t" scale="2.6" xChannelSelector="R" yChannelSelector="G"/><feGaussianBlur stdDeviation="0.35"/></filter></defs>
<g filter="url(#soft)">
<path d="M140.0,767.5 C141.3,766.5 144.4,765.8 146.0,766.0 C147.6,766.2 149.2,766.8 149.5,768.5 C149.8,770.2 148.9,773.9 148.0,776.0 C147.1,778.1 145.2,779.5 144.0,781.0 C142.8,782.5 141.8,785.3 141.0,785.0 C140.2,784.7 140.0,781.2 139.5,779.0 C139.0,776.8 137.9,773.9 138.0,772.0 C138.1,770.1 138.7,768.5 140.0,767.5 Z" fill="#22a07f"/>
<path d="M150.0,785.0 C151.8,783.3 155.5,781.5 158.0,781.0 C160.5,780.5 163.6,780.7 165.0,782.0 C166.4,783.3 166.7,786.5 166.5,789.0 C166.3,791.5 165.8,795.1 164.0,797.0 C162.2,798.9 158.5,800.3 156.0,800.5 C153.5,800.7 150.5,799.6 149.0,798.0 C147.5,796.4 146.8,793.2 147.0,791.0 C147.2,788.8 148.2,786.7 150.0,785.0 Z" fill="#f0a012"/>
<path d="M103.0,818.0 C103.8,815.5 106.8,812.2 109.0,810.0 C111.2,807.8 113.8,806.0 116.0,805.0 C118.2,804.0 120.8,803.3 122.0,804.0 C123.2,804.7 124.0,807.0 123.0,809.0 C122.0,811.0 118.3,813.7 116.0,816.0 C113.7,818.3 111.0,821.5 109.0,823.0 C107.0,824.5 105.0,825.8 104.0,825.0 C103.0,824.2 102.2,820.5 103.0,818.0 Z" fill="#f2a516"/>
<path d="M152.0,811.0 C153.0,809.2 156.2,808.5 158.0,808.5 C159.8,808.5 162.3,809.4 163.0,811.0 C163.7,812.6 163.0,816.3 162.0,818.0 C161.0,819.7 158.2,819.8 157.0,821.0 C155.8,822.2 155.8,825.3 155.0,825.0 C154.2,824.7 152.5,821.3 152.0,819.0 C151.5,816.7 151.0,812.8 152.0,811.0 Z" fill="#1f9878"/>
<path d="M127.0,826.0 C127.9,824.2 130.3,822.9 132.0,822.5 C133.7,822.1 136.3,822.2 137.0,823.5 C137.7,824.8 137.0,828.1 136.0,830.0 C135.0,831.9 132.6,834.5 131.0,835.0 C129.4,835.5 127.2,834.5 126.5,833.0 C125.8,831.5 126.1,827.8 127.0,826.0 Z" fill="#f7c10f"/>
<path d="M107.0,837.0 C107.7,834.8 110.0,834.4 112.0,834.0 C114.0,833.6 117.0,833.8 119.0,834.5 C121.0,835.2 123.7,836.2 124.0,838.0 C124.3,839.8 122.7,843.2 121.0,845.0 C119.3,846.8 116.2,848.7 114.0,849.0 C111.8,849.3 109.2,849.0 108.0,847.0 C106.8,845.0 106.3,839.2 107.0,837.0 Z" fill="#eda10c"/>
<path d="M176.0,825.0 C177.8,822.2 181.2,820.5 184.0,819.5 C186.8,818.5 190.8,818.4 193.0,819.0 C195.2,819.6 196.8,820.7 197.5,823.0 C198.2,825.3 198.2,830.2 197.5,833.0 C196.8,835.8 195.2,837.8 193.0,839.5 C190.8,841.2 187.0,842.4 184.0,843.0 C181.0,843.6 176.8,844.2 175.0,843.0 C173.2,841.8 172.8,839.0 173.0,836.0 C173.2,833.0 174.2,827.8 176.0,825.0 Z" fill="#f3b00c"/>
<path d="M178.0,826.0 C179.4,823.6 182.5,822.2 185.0,821.5 C187.5,820.8 191.2,820.8 193.0,821.5 C194.8,822.2 195.6,823.9 196.0,826.0 C196.4,828.1 196.5,831.9 195.5,834.0 C194.5,836.1 192.2,837.5 190.0,838.5 C187.8,839.5 184.2,840.4 182.0,840.0 C179.8,839.6 177.2,838.3 176.5,836.0 C175.8,833.7 176.6,828.4 178.0,826.0 Z" fill="#f7e31e"/>
<path d="M137.0,847.0 C137.3,845.8 140.4,844.8 142.0,844.5 C143.6,844.2 146.0,844.2 146.5,845.0 C147.0,845.8 146.1,847.9 145.0,849.0 C143.9,850.1 141.3,851.8 140.0,851.5 C138.7,851.2 136.7,848.2 137.0,847.0 Z" fill="#eaa015"/>
<path d="M196.2,810.0 C196.6,808.7 198.2,810.5 198.6,812.0 C199.0,813.5 199.0,817.7 198.6,819.0 C198.2,820.3 196.4,821.5 196.0,820.0 C195.6,818.5 195.8,811.3 196.2,810.0 Z" fill="#e8a010"/>
</g></g>
<g transform="translate(253.5,760.3) scale(0.988,0.975) translate(-42.7,-756)">
<defs><clipPath id="cc2"><path d="M46.4,835.7 C44.8,832.1 43.7,826.3 43.4,822.0 C43.1,817.7 43.9,813.3 44.5,810.0 C45.1,806.7 46.0,804.7 47.2,802.0 C48.4,799.3 49.7,796.5 51.5,794.0 C53.3,791.5 55.6,789.0 57.9,786.7 C60.1,784.4 62.5,782.0 65.0,780.0 C67.5,778.0 70.4,776.2 73.2,774.5 C76.0,772.8 78.9,771.0 82.0,769.5 C85.1,768.0 88.5,766.5 91.6,765.3 C94.7,764.1 97.4,763.3 100.5,762.5 C103.6,761.7 107.1,761.4 110.0,760.7 C112.9,760.0 115.2,759.1 118.0,758.5 C120.8,757.9 123.5,757.3 126.8,756.9 C130.1,756.5 133.7,755.9 137.5,756.1 C141.3,756.4 145.5,757.0 149.8,758.4 C154.1,759.8 159.2,761.8 163.5,764.5 C167.8,767.2 172.2,770.8 175.8,774.5 C179.4,778.2 182.2,782.4 185.0,786.7 C187.8,791.0 190.6,795.9 192.6,800.5 C194.6,805.1 196.2,809.9 197.2,814.3 C198.2,818.6 198.8,822.5 198.8,826.6 C198.8,830.7 198.2,835.6 197.2,838.8 C196.2,842.0 194.6,844.2 192.6,845.7 C190.6,847.2 187.9,848.0 185.0,848.0 C182.1,848.0 179.1,846.8 175.0,846.0 C170.9,845.2 165.5,843.2 160.5,843.0 C155.5,842.8 149.2,843.8 145.0,845.0 C140.8,846.2 138.5,848.3 135.0,850.0 C131.5,851.7 127.8,854.0 124.0,855.0 C120.2,856.0 116.0,856.0 112.0,856.0 C108.0,856.0 103.9,855.5 100.0,855.0 C96.1,854.5 92.2,853.7 88.5,853.3 C84.8,852.9 81.6,853.2 77.8,852.6 C74.0,852.0 69.7,851.0 65.6,849.5 C61.5,848.0 56.5,845.7 53.3,843.4 C50.1,841.1 48.0,839.3 46.4,835.7 Z"/></clipPath><clipPath id="cb2"><path d="M123.7,858.0 C123.6,855.8 125.5,852.9 127.0,851.0 C128.6,849.1 130.8,847.8 133.0,846.5 C135.2,845.2 137.2,844.2 140.0,843.5 C142.8,842.8 146.6,842.3 150.0,842.0 C153.4,841.7 157.2,841.5 160.5,841.6 C163.8,841.7 166.7,841.9 170.0,842.5 C173.3,843.1 177.7,843.8 180.4,845.0 C183.1,846.2 184.8,848.0 186.0,850.0 C187.2,852.0 187.4,854.3 187.5,857.0 C187.6,859.7 187.2,863.8 186.5,866.4 C185.8,869.0 184.3,870.7 183.0,872.5 C181.7,874.3 180.7,875.7 178.9,877.1 C177.1,878.5 174.3,880.0 172.0,881.0 C169.7,882.0 167.4,882.8 165.1,883.2 C162.8,883.6 160.3,883.5 158.0,883.2 C155.7,883.0 153.5,882.5 151.3,881.7 C149.1,880.9 147.1,879.8 145.0,878.5 C142.9,877.2 141.0,875.5 139.0,874.0 C137.0,872.5 134.9,871.1 133.0,869.5 C131.1,867.9 129.1,866.4 127.5,864.5 C126.0,862.6 123.8,860.2 123.7,858.0 Z"/></clipPath></defs>
<path d="M84.0,851.0 C82.5,852.2 85.0,854.9 86.0,857.0 C87.0,859.1 87.8,861.7 90.0,863.5 C92.2,865.3 95.9,867.1 99.2,868.0 C102.5,868.9 106.7,869.4 110.0,868.7 C113.3,868.0 116.9,866.0 119.2,864.0 C121.5,862.0 123.5,859.2 124.0,857.0 C124.5,854.8 124.3,852.2 122.0,851.0 C119.7,849.8 114.5,850.2 110.0,850.0 C105.5,849.8 99.3,849.8 95.0,850.0 C90.7,850.2 85.5,849.8 84.0,851.0 Z" fill="#3a3a3a"/>
<path d="M119.0,850.0 C118.3,851.3 122.3,853.7 124.0,856.0 C125.7,858.3 127.4,861.3 129.0,864.0 C130.6,866.7 132.2,869.5 133.5,872.0 C134.8,874.5 136.0,876.9 137.0,879.0 C138.0,881.1 138.7,883.1 139.5,884.7 C140.3,886.3 140.4,888.1 142.1,888.8 C143.8,889.5 148.7,889.9 149.8,888.8 C151.0,887.7 149.6,884.5 149.0,882.0 C148.4,879.5 147.4,876.7 146.5,874.0 C145.6,871.3 144.6,868.7 143.6,866.0 C142.6,863.3 141.6,860.3 140.5,858.0 C139.4,855.7 139.1,853.7 137.0,852.0 C134.9,850.3 131.0,848.3 128.0,848.0 C125.0,847.7 119.7,848.7 119.0,850.0 Z" fill="#7a7a7a" stroke="#3a3a3a" stroke-width="1.2"/>
<g clip-path="url(#cc2)">
<path d="M46.4,835.7 C44.8,832.1 43.7,826.3 43.4,822.0 C43.1,817.7 43.9,813.3 44.5,810.0 C45.1,806.7 46.0,804.7 47.2,802.0 C48.4,799.3 49.7,796.5 51.5,794.0 C53.3,791.5 55.6,789.0 57.9,786.7 C60.1,784.4 62.5,782.0 65.0,780.0 C67.5,778.0 70.4,776.2 73.2,774.5 C76.0,772.8 78.9,771.0 82.0,769.5 C85.1,768.0 88.5,766.5 91.6,765.3 C94.7,764.1 97.4,763.3 100.5,762.5 C103.6,761.7 107.1,761.4 110.0,760.7 C112.9,760.0 115.2,759.1 118.0,758.5 C120.8,757.9 123.5,757.3 126.8,756.9 C130.1,756.5 133.7,755.9 137.5,756.1 C141.3,756.4 145.5,757.0 149.8,758.4 C154.1,759.8 159.2,761.8 163.5,764.5 C167.8,767.2 172.2,770.8 175.8,774.5 C179.4,778.2 182.2,782.4 185.0,786.7 C187.8,791.0 190.6,795.9 192.6,800.5 C194.6,805.1 196.2,809.9 197.2,814.3 C198.2,818.6 198.8,822.5 198.8,826.6 C198.8,830.7 198.2,835.6 197.2,838.8 C196.2,842.0 194.6,844.2 192.6,845.7 C190.6,847.2 187.9,848.0 185.0,848.0 C182.1,848.0 179.1,846.8 175.0,846.0 C170.9,845.2 165.5,843.2 160.5,843.0 C155.5,842.8 149.2,843.8 145.0,845.0 C140.8,846.2 138.5,848.3 135.0,850.0 C131.5,851.7 127.8,854.0 124.0,855.0 C120.2,856.0 116.0,856.0 112.0,856.0 C108.0,856.0 103.9,855.5 100.0,855.0 C96.1,854.5 92.2,853.7 88.5,853.3 C84.8,852.9 81.6,853.2 77.8,852.6 C74.0,852.0 69.7,851.0 65.6,849.5 C61.5,848.0 56.5,845.7 53.3,843.4 C50.1,841.1 48.0,839.3 46.4,835.7 Z" fill="#e6e6e6"/>
<rect x="40" y="750" width="165" height="110" filter="url(#wmt)" opacity="0.32"/>
<path d="M46.4,835.7 C44.8,832.1 43.7,826.3 43.4,822.0 C43.1,817.7 43.9,813.3 44.5,810.0 C45.1,806.7 46.0,804.7 47.2,802.0 C48.4,799.3 49.7,796.5 51.5,794.0 C53.3,791.5 55.6,789.0 57.9,786.7 C60.1,784.4 62.5,782.0 65.0,780.0 C67.5,778.0 70.4,776.2 73.2,774.5 C76.0,772.8 78.9,771.0 82.0,769.5 C85.1,768.0 88.5,766.5 91.6,765.3 C94.7,764.1 97.4,763.3 100.5,762.5 C103.6,761.7 107.1,761.4 110.0,760.7 C112.9,760.0 115.2,759.1 118.0,758.5 C120.8,757.9 123.5,757.3 126.8,756.9 C130.1,756.5 133.7,755.9 137.5,756.1 C141.3,756.4 145.5,757.0 149.8,758.4 C154.1,759.8 159.2,761.8 163.5,764.5 C167.8,767.2 172.2,770.8 175.8,774.5 C179.4,778.2 182.2,782.4 185.0,786.7 C187.8,791.0 190.6,795.9 192.6,800.5 C194.6,805.1 196.2,809.9 197.2,814.3 C198.2,818.6 198.8,822.5 198.8,826.6 C198.8,830.7 198.2,835.6 197.2,838.8 C196.2,842.0 194.6,844.2 192.6,845.7 C190.6,847.2 187.9,848.0 185.0,848.0 C182.1,848.0 179.1,846.8 175.0,846.0 C170.9,845.2 165.5,843.2 160.5,843.0 C155.5,842.8 149.2,843.8 145.0,845.0 C140.8,846.2 138.5,848.3 135.0,850.0 C131.5,851.7 127.8,854.0 124.0,855.0 C120.2,856.0 116.0,856.0 112.0,856.0 C108.0,856.0 103.9,855.5 100.0,855.0 C96.1,854.5 92.2,853.7 88.5,853.3 C84.8,852.9 81.6,853.2 77.8,852.6 C74.0,852.0 69.7,851.0 65.6,849.5 C61.5,848.0 56.5,845.7 53.3,843.4 C50.1,841.1 48.0,839.3 46.4,835.7 Z" fill="none" stroke="#8c8c8c" stroke-width="21"/>
<g filter="url(#mb)">
<line x1="49.84" y1="829.08" x2="57.96" y2="827.80" stroke="#d2d2d2" stroke-width="3.0" stroke-linecap="round"/>
<line x1="45.32" y1="823.84" x2="52.26" y2="823.30" stroke="#404040" stroke-width="2.1" stroke-linecap="round"/>
<line x1="49.17" y1="818.00" x2="56.77" y2="818.00" stroke="#d2d2d2" stroke-width="3.0" stroke-linecap="round"/>
<line x1="45.81" y1="812.12" x2="52.42" y2="812.64" stroke="#404040" stroke-width="2.1" stroke-linecap="round"/>
<line x1="50.65" y1="806.78" x2="58.68" y2="808.08" stroke="#d2d2d2" stroke-width="3.0" stroke-linecap="round"/>
<line x1="49.61" y1="800.58" x2="56.46" y2="802.28" stroke="#404040" stroke-width="2.1" stroke-linecap="round"/>
<line x1="55.23" y1="796.30" x2="63.35" y2="799.02" stroke="#d2d2d2" stroke-width="3.0" stroke-linecap="round"/>
<line x1="56.43" y1="790.54" x2="62.67" y2="793.23" stroke="#404040" stroke-width="2.1" stroke-linecap="round"/>
<line x1="63.89" y1="787.60" x2="70.91" y2="791.40" stroke="#d2d2d2" stroke-width="3.0" stroke-linecap="round"/>
<line x1="65.46" y1="781.58" x2="71.92" y2="785.90" stroke="#404040" stroke-width="2.1" stroke-linecap="round"/>
<line x1="72.91" y1="779.67" x2="79.64" y2="785.15" stroke="#d2d2d2" stroke-width="3.0" stroke-linecap="round"/>
<line x1="76.03" y1="774.55" x2="80.34" y2="778.81" stroke="#404040" stroke-width="2.1" stroke-linecap="round"/>
<line x1="83.01" y1="773.81" x2="88.58" y2="780.47" stroke="#d2d2d2" stroke-width="3.0" stroke-linecap="round"/>
<line x1="86.68" y1="769.06" x2="91.09" y2="775.54" stroke="#404040" stroke-width="2.1" stroke-linecap="round"/>
<line x1="94.02" y1="769.79" x2="97.77" y2="776.74" stroke="#d2d2d2" stroke-width="3.0" stroke-linecap="round"/>
<line x1="98.10" y1="764.82" x2="100.06" y2="769.58" stroke="#404040" stroke-width="2.1" stroke-linecap="round"/>
<line x1="105.20" y1="767.16" x2="107.30" y2="774.38" stroke="#d2d2d2" stroke-width="3.0" stroke-linecap="round"/>
<line x1="110.26" y1="762.18" x2="111.70" y2="770.43" stroke="#404040" stroke-width="2.1" stroke-linecap="round"/>
<line x1="116.34" y1="764.09" x2="116.88" y2="772.02" stroke="#d2d2d2" stroke-width="3.0" stroke-linecap="round"/>
<line x1="122.34" y1="759.20" x2="122.06" y2="766.35" stroke="#404040" stroke-width="2.1" stroke-linecap="round"/>
<line x1="128.30" y1="761.10" x2="127.06" y2="769.60" stroke="#d2d2d2" stroke-width="3.0" stroke-linecap="round"/>
<line x1="135.00" y1="757.72" x2="133.78" y2="762.62" stroke="#404040" stroke-width="2.1" stroke-linecap="round"/>
<line x1="139.97" y1="761.47" x2="137.27" y2="769.12" stroke="#d2d2d2" stroke-width="3.0" stroke-linecap="round"/>
<line x1="147.12" y1="759.38" x2="144.93" y2="764.11" stroke="#404040" stroke-width="2.1" stroke-linecap="round"/>
<line x1="151.48" y1="763.99" x2="147.17" y2="771.37" stroke="#d2d2d2" stroke-width="3.0" stroke-linecap="round"/>
<line x1="158.71" y1="763.98" x2="155.31" y2="768.73" stroke="#404040" stroke-width="2.1" stroke-linecap="round"/>
<line x1="162.37" y1="769.04" x2="156.63" y2="775.66" stroke="#d2d2d2" stroke-width="3.0" stroke-linecap="round"/>
<line x1="168.98" y1="770.87" x2="164.21" y2="775.47" stroke="#404040" stroke-width="2.1" stroke-linecap="round"/>
<line x1="171.26" y1="776.82" x2="164.85" y2="781.97" stroke="#d2d2d2" stroke-width="3.0" stroke-linecap="round"/>
<line x1="177.62" y1="779.40" x2="171.02" y2="783.83" stroke="#404040" stroke-width="2.1" stroke-linecap="round"/>
<line x1="178.28" y1="785.80" x2="171.17" y2="789.73" stroke="#d2d2d2" stroke-width="3.0" stroke-linecap="round"/>
<line x1="184.64" y1="789.15" x2="178.03" y2="792.10" stroke="#404040" stroke-width="2.1" stroke-linecap="round"/>
<line x1="184.47" y1="795.65" x2="176.77" y2="798.32" stroke="#d2d2d2" stroke-width="3.0" stroke-linecap="round"/>
<line x1="190.64" y1="799.95" x2="183.55" y2="801.76" stroke="#404040" stroke-width="2.1" stroke-linecap="round"/>
<line x1="189.52" y1="806.23" x2="181.43" y2="807.60" stroke="#d2d2d2" stroke-width="3.0" stroke-linecap="round"/>
<line x1="194.72" y1="811.47" x2="188.77" y2="811.99" stroke="#404040" stroke-width="2.1" stroke-linecap="round"/>
<line x1="192.10" y1="817.42" x2="184.60" y2="817.48" stroke="#d2d2d2" stroke-width="3.0" stroke-linecap="round"/>
<line x1="196.90" y1="823.42" x2="188.44" y2="822.82" stroke="#404040" stroke-width="2.1" stroke-linecap="round"/>
<line x1="193.17" y1="828.87" x2="185.54" y2="827.74" stroke="#d2d2d2" stroke-width="3.0" stroke-linecap="round"/>
<line x1="196.14" y1="835.42" x2="188.85" y2="833.75" stroke="#404040" stroke-width="2.1" stroke-linecap="round"/>
<line x1="191.07" y1="840.02" x2="183.06" y2="837.54" stroke="#d2d2d2" stroke-width="3.0" stroke-linecap="round"/>
<line x1="190.12" y1="845.48" x2="184.71" y2="843.36" stroke="#404040" stroke-width="2.1" stroke-linecap="round"/>
<line x1="181.91" y1="845.80" x2="174.23" y2="842.35" stroke="#d2d2d2" stroke-width="3.0" stroke-linecap="round"/>
<line x1="178.65" y1="846.35" x2="173.93" y2="844.06" stroke="#404040" stroke-width="2.1" stroke-linecap="round"/>
<line x1="169.34" y1="843.41" x2="162.41" y2="839.83" stroke="#d2d2d2" stroke-width="3.0" stroke-linecap="round"/>
<line x1="166.44" y1="843.77" x2="160.84" y2="840.67" stroke="#404040" stroke-width="2.1" stroke-linecap="round"/>
<line x1="157.00" y1="840.46" x2="150.42" y2="836.47" stroke="#d2d2d2" stroke-width="3.0" stroke-linecap="round"/>
<line x1="154.12" y1="842.79" x2="148.98" y2="839.05" stroke="#404040" stroke-width="2.1" stroke-linecap="round"/>
<line x1="145.10" y1="840.81" x2="139.51" y2="835.73" stroke="#d2d2d2" stroke-width="3.0" stroke-linecap="round"/>
<line x1="142.22" y1="844.76" x2="137.13" y2="838.63" stroke="#404040" stroke-width="2.1" stroke-linecap="round"/>
<line x1="135.62" y1="845.00" x2="131.22" y2="837.38" stroke="#d2d2d2" stroke-width="3.0" stroke-linecap="round"/>
<line x1="131.73" y1="849.84" x2="129.75" y2="844.46" stroke="#404040" stroke-width="2.1" stroke-linecap="round"/>
<line x1="125.75" y1="848.46" x2="124.34" y2="840.98" stroke="#d2d2d2" stroke-width="3.0" stroke-linecap="round"/>
<line x1="120.96" y1="853.75" x2="120.78" y2="847.11" stroke="#404040" stroke-width="2.1" stroke-linecap="round"/>
<line x1="115.72" y1="850.32" x2="116.71" y2="842.86" stroke="#d2d2d2" stroke-width="3.0" stroke-linecap="round"/>
<line x1="109.42" y1="854.31" x2="111.21" y2="848.17" stroke="#404040" stroke-width="2.1" stroke-linecap="round"/>
<line x1="104.78" y1="851.34" x2="108.40" y2="843.42" stroke="#d2d2d2" stroke-width="3.0" stroke-linecap="round"/>
<line x1="97.67" y1="853.27" x2="101.52" y2="847.18" stroke="#404040" stroke-width="2.1" stroke-linecap="round"/>
<line x1="93.91" y1="849.59" x2="98.87" y2="843.59" stroke="#d2d2d2" stroke-width="3.0" stroke-linecap="round"/>
<line x1="85.29" y1="851.97" x2="89.54" y2="847.81" stroke="#404040" stroke-width="2.1" stroke-linecap="round"/>
<line x1="81.14" y1="849.87" x2="87.85" y2="844.36" stroke="#d2d2d2" stroke-width="3.0" stroke-linecap="round"/>
<line x1="72.94" y1="850.20" x2="78.03" y2="846.72" stroke="#404040" stroke-width="2.1" stroke-linecap="round"/>
<line x1="70.32" y1="846.77" x2="76.85" y2="842.99" stroke="#d2d2d2" stroke-width="3.0" stroke-linecap="round"/>
<line x1="61.28" y1="846.04" x2="68.18" y2="842.74" stroke="#404040" stroke-width="2.1" stroke-linecap="round"/>
<line x1="58.30" y1="842.28" x2="66.34" y2="839.11" stroke="#d2d2d2" stroke-width="3.0" stroke-linecap="round"/>
<line x1="51.28" y1="839.11" x2="56.89" y2="837.39" stroke="#404040" stroke-width="2.1" stroke-linecap="round"/>
</g>
<path d="M46.4,835.7 C44.8,832.1 43.7,826.3 43.4,822.0 C43.1,817.7 43.9,813.3 44.5,810.0 C45.1,806.7 46.0,804.7 47.2,802.0 C48.4,799.3 49.7,796.5 51.5,794.0 C53.3,791.5 55.6,789.0 57.9,786.7 C60.1,784.4 62.5,782.0 65.0,780.0 C67.5,778.0 70.4,776.2 73.2,774.5 C76.0,772.8 78.9,771.0 82.0,769.5 C85.1,768.0 88.5,766.5 91.6,765.3 C94.7,764.1 97.4,763.3 100.5,762.5 C103.6,761.7 107.1,761.4 110.0,760.7 C112.9,760.0 115.2,759.1 118.0,758.5 C120.8,757.9 123.5,757.3 126.8,756.9 C130.1,756.5 133.7,755.9 137.5,756.1 C141.3,756.4 145.5,757.0 149.8,758.4 C154.1,759.8 159.2,761.8 163.5,764.5 C167.8,767.2 172.2,770.8 175.8,774.5 C179.4,778.2 182.2,782.4 185.0,786.7 C187.8,791.0 190.6,795.9 192.6,800.5 C194.6,805.1 196.2,809.9 197.2,814.3 C198.2,818.6 198.8,822.5 198.8,826.6 C198.8,830.7 198.2,835.6 197.2,838.8 C196.2,842.0 194.6,844.2 192.6,845.7 C190.6,847.2 187.9,848.0 185.0,848.0 C182.1,848.0 179.1,846.8 175.0,846.0 C170.9,845.2 165.5,843.2 160.5,843.0 C155.5,842.8 149.2,843.8 145.0,845.0 C140.8,846.2 138.5,848.3 135.0,850.0 C131.5,851.7 127.8,854.0 124.0,855.0 C120.2,856.0 116.0,856.0 112.0,856.0 C108.0,856.0 103.9,855.5 100.0,855.0 C96.1,854.5 92.2,853.7 88.5,853.3 C84.8,852.9 81.6,853.2 77.8,852.6 C74.0,852.0 69.7,851.0 65.6,849.5 C61.5,848.0 56.5,845.7 53.3,843.4 C50.1,841.1 48.0,839.3 46.4,835.7 Z" fill="none" stroke="#1c1c1c" stroke-width="5.8"/>
<g filter="url(#mb)">
<ellipse cx="76.5" cy="793" rx="5.0" ry="6.2" fill="#a8a8a8" transform="rotate(-40 76.5 793)"/>
<ellipse cx="76.5" cy="793" rx="3.8" ry="5" fill="#6e6e6e" transform="rotate(-40 76.5 793)"/>
<ellipse cx="87" cy="786" rx="4.8" ry="6.4" fill="#a8a8a8" transform="rotate(-35 87 786)"/>
<ellipse cx="87" cy="786" rx="3.6" ry="5.2" fill="#6e6e6e" transform="rotate(-35 87 786)"/>
<ellipse cx="98.5" cy="781" rx="4.8" ry="6.4" fill="#a8a8a8" transform="rotate(-25 98.5 781)"/>
<ellipse cx="98.5" cy="781" rx="3.6" ry="5.2" fill="#6e6e6e" transform="rotate(-25 98.5 781)"/>
<ellipse cx="110" cy="778" rx="4.4" ry="6.0" fill="#a8a8a8" transform="rotate(-15 110 778)"/>
<ellipse cx="110" cy="778" rx="3.2" ry="4.8" fill="#6e6e6e" transform="rotate(-15 110 778)"/>
<ellipse cx="67" cy="803" rx="4.0" ry="5.2" fill="#a8a8a8" transform="rotate(-60 67 803)"/>
<ellipse cx="67" cy="803" rx="2.8" ry="4" fill="#6e6e6e" transform="rotate(-60 67 803)"/>
<ellipse cx="60" cy="816" rx="3.4000000000000004" ry="4.4" fill="#a8a8a8" transform="rotate(-80 60 816)"/>
<ellipse cx="60" cy="816" rx="2.2" ry="3.2" fill="#6e6e6e" transform="rotate(-80 60 816)"/>
</g>
<ellipse cx="113" cy="825" rx="19" ry="13" fill="#bdbdbd"/>
<ellipse cx="96" cy="832" rx="8" ry="6.5" fill="#8e8e8e"/>
<ellipse cx="118" cy="823" rx="9" ry="8" fill="#cfcfcf"/>
<path d="M86,826 Q92,806 120,804 Q140,803 150,812" fill="none" stroke="#f6f6f6" stroke-width="2.5"/>
<path d="M126.0,806.6 C126.8,806.4 134.2,807.1 136.0,807.5 C137.8,807.9 142.7,809.0 143.6,810.5 C144.5,812.0 145.6,821.1 145.2,822.0 C144.8,822.9 141.2,819.8 140.0,819.0 C138.8,818.2 134.2,814.9 133.0,814.0 C131.8,813.1 128.7,810.7 128.0,810.0 C127.3,809.3 125.2,806.9 126.0,806.6 Z" fill="#585858"/>
<path d="M104,843 Q124,829 148,826 T182,822" fill="none" stroke="#4e4e4e" stroke-width="2.4"/>
<path d="M110,849 Q128,838 152,833 T178,829" fill="none" stroke="#8a8a8a" stroke-width="2.5"/>
<path d="M160,820 Q172,817 180,819" fill="none" stroke="#6a6a6a" stroke-width="3"/>
</g>
<path d="M123.7,858.0 C123.6,855.8 125.5,852.9 127.0,851.0 C128.6,849.1 130.8,847.8 133.0,846.5 C135.2,845.2 137.2,844.2 140.0,843.5 C142.8,842.8 146.6,842.3 150.0,842.0 C153.4,841.7 157.2,841.5 160.5,841.6 C163.8,841.7 166.7,841.9 170.0,842.5 C173.3,843.1 177.7,843.8 180.4,845.0 C183.1,846.2 184.8,848.0 186.0,850.0 C187.2,852.0 187.4,854.3 187.5,857.0 C187.6,859.7 187.2,863.8 186.5,866.4 C185.8,869.0 184.3,870.7 183.0,872.5 C181.7,874.3 180.7,875.7 178.9,877.1 C177.1,878.5 174.3,880.0 172.0,881.0 C169.7,882.0 167.4,882.8 165.1,883.2 C162.8,883.6 160.3,883.5 158.0,883.2 C155.7,883.0 153.5,882.5 151.3,881.7 C149.1,880.9 147.1,879.8 145.0,878.5 C142.9,877.2 141.0,875.5 139.0,874.0 C137.0,872.5 134.9,871.1 133.0,869.5 C131.1,867.9 129.1,866.4 127.5,864.5 C126.0,862.6 123.8,860.2 123.7,858.0 Z" fill="#9c9c9c"/>
<g clip-path="url(#cb2)">
<g filter="url(#mb)">
<ellipse cx="147" cy="862" rx="15" ry="8" fill="#dcdcdc"/>
<line x1="150.59" y1="856.20" x2="159.39" y2="836.89" stroke="#e4e4e4" stroke-width="1.5"/>
<line x1="152.69" y1="856.70" x2="168.66" y2="839.04" stroke="#e4e4e4" stroke-width="1.5"/>
<line x1="154.56" y1="857.47" x2="176.87" y2="842.38" stroke="#e4e4e4" stroke-width="1.5"/>
<line x1="156.09" y1="858.47" x2="183.60" y2="846.72" stroke="#e4e4e4" stroke-width="1.5"/>
<line x1="157.21" y1="859.66" x2="188.50" y2="851.84" stroke="#e4e4e4" stroke-width="1.5"/>
<line x1="157.85" y1="860.96" x2="191.33" y2="857.49" stroke="#e4e4e4" stroke-width="1.5"/>
<line x1="157.99" y1="862.31" x2="191.94" y2="863.36" stroke="#e4e4e4" stroke-width="1.5"/>
<line x1="157.61" y1="863.65" x2="190.30" y2="869.17" stroke="#e4e4e4" stroke-width="1.5"/>
<line x1="156.75" y1="864.91" x2="186.48" y2="874.61" stroke="#e4e4e4" stroke-width="1.5"/>
<line x1="155.43" y1="866.01" x2="180.70" y2="879.40" stroke="#e4e4e4" stroke-width="1.5"/>
<line x1="153.74" y1="866.91" x2="173.24" y2="883.30" stroke="#e4e4e4" stroke-width="1.5"/>
<line x1="151.75" y1="867.56" x2="164.48" y2="886.11" stroke="#e4e4e4" stroke-width="1.5"/>
<line x1="149.56" y1="867.93" x2="154.88" y2="887.68" stroke="#e4e4e4" stroke-width="1.5"/>
<line x1="147.30" y1="867.99" x2="144.93" y2="887.94" stroke="#e4e4e4" stroke-width="1.5"/>
<line x1="145.08" y1="867.74" x2="135.14" y2="886.86" stroke="#e4e4e4" stroke-width="1.5"/>
<line x1="143.00" y1="867.20" x2="126.00" y2="884.52" stroke="#e4e4e4" stroke-width="1.5"/>
<line x1="141.18" y1="866.39" x2="117.99" y2="881.02" stroke="#e4e4e4" stroke-width="1.5"/>
<line x1="139.71" y1="865.36" x2="111.52" y2="876.54" stroke="#e4e4e4" stroke-width="1.5"/>
</g>
<path d="M123.7,858.0 C123.6,855.8 125.5,852.9 127.0,851.0 C128.6,849.1 130.8,847.8 133.0,846.5 C135.2,845.2 137.2,844.2 140.0,843.5 C142.8,842.8 146.6,842.3 150.0,842.0 C153.4,841.7 157.2,841.5 160.5,841.6 C163.8,841.7 166.7,841.9 170.0,842.5 C173.3,843.1 177.7,843.8 180.4,845.0 C183.1,846.2 184.8,848.0 186.0,850.0 C187.2,852.0 187.4,854.3 187.5,857.0 C187.6,859.7 187.2,863.8 186.5,866.4 C185.8,869.0 184.3,870.7 183.0,872.5 C181.7,874.3 180.7,875.7 178.9,877.1 C177.1,878.5 174.3,880.0 172.0,881.0 C169.7,882.0 167.4,882.8 165.1,883.2 C162.8,883.6 160.3,883.5 158.0,883.2 C155.7,883.0 153.5,882.5 151.3,881.7 C149.1,880.9 147.1,879.8 145.0,878.5 C142.9,877.2 141.0,875.5 139.0,874.0 C137.0,872.5 134.9,871.1 133.0,869.5 C131.1,867.9 129.1,866.4 127.5,864.5 C126.0,862.6 123.8,860.2 123.7,858.0 Z" fill="none" stroke="#8a8a8a" stroke-width="4"/>
</g>
<path d="M123.7,858.0 C123.6,855.8 125.5,852.9 127.0,851.0 C128.6,849.1 130.8,847.8 133.0,846.5 C135.2,845.2 137.2,844.2 140.0,843.5 C142.8,842.8 146.6,842.3 150.0,842.0 C153.4,841.7 157.2,841.5 160.5,841.6 C163.8,841.7 166.7,841.9 170.0,842.5 C173.3,843.1 177.7,843.8 180.4,845.0 C183.1,846.2 184.8,848.0 186.0,850.0 C187.2,852.0 187.4,854.3 187.5,857.0 C187.6,859.7 187.2,863.8 186.5,866.4 C185.8,869.0 184.3,870.7 183.0,872.5 C181.7,874.3 180.7,875.7 178.9,877.1 C177.1,878.5 174.3,880.0 172.0,881.0 C169.7,882.0 167.4,882.8 165.1,883.2 C162.8,883.6 160.3,883.5 158.0,883.2 C155.7,883.0 153.5,882.5 151.3,881.7 C149.1,880.9 147.1,879.8 145.0,878.5 C142.9,877.2 141.0,875.5 139.0,874.0 C137.0,872.5 134.9,871.1 133.0,869.5 C131.1,867.9 129.1,866.4 127.5,864.5 C126.0,862.6 123.8,860.2 123.7,858.0 Z" fill="none" stroke="#222" stroke-width="1.5"/>
</g>
<g filter="url(#soft)">
<path d="M311.5,777.5 C312.5,775.2 315.6,775.6 318.0,775.5 C320.4,775.4 324.5,775.6 326.0,777.0 C327.5,778.4 327.3,781.7 327.0,784.0 C326.7,786.3 325.5,789.3 324.0,791.0 C322.5,792.7 320.0,794.3 318.0,794.0 C316.0,793.7 313.1,791.8 312.0,789.0 C310.9,786.2 310.5,779.8 311.5,777.5 Z" fill="#f2a716"/>
<path d="M356.5,772.0 C358.2,770.1 363.2,769.8 366.0,769.6 C368.8,769.5 372.4,769.1 375.0,771.0 C377.6,772.9 381.3,778.1 383.6,782.3 C385.9,786.5 388.6,795.3 390.3,799.2 C392.0,803.1 392.7,805.5 395.0,808.0 C397.3,810.5 403.7,813.3 405.6,816.0 C407.5,818.7 407.4,823.0 407.5,826.0 C407.6,829.0 407.1,833.8 406.0,836.0 C404.9,838.2 402.1,839.7 400.0,840.5 C397.9,841.3 394.7,841.3 392.0,841.4 C389.3,841.5 383.3,843.4 382.0,841.4 C380.7,839.4 383.1,831.5 383.6,827.9 C384.1,824.3 386.1,821.0 385.3,817.7 C384.5,814.4 381.3,808.2 378.5,805.9 C375.7,803.6 369.8,804.0 366.7,802.5 C363.6,801.0 359.3,798.8 357.5,795.8 C355.7,792.8 354.6,785.9 354.5,782.3 C354.4,778.7 354.8,773.9 356.5,772.0 Z" fill="#f2ac14"/>
<path d="M362.0,776.0 C364.0,774.0 369.0,772.7 372.0,774.0 C375.0,775.3 377.8,780.2 380.0,784.0 C382.2,787.8 385.5,794.3 385.0,797.0 C384.5,799.7 380.0,800.5 377.0,800.0 C374.0,799.5 369.8,796.3 367.0,794.0 C364.2,791.7 360.8,789.0 360.0,786.0 C359.2,783.0 360.0,778.0 362.0,776.0 Z" fill="#f6cd1c"/>
<path d="M390.0,818.0 C392.2,816.5 397.5,815.7 400.0,817.0 C402.5,818.3 404.3,823.0 405.0,826.0 C405.7,829.0 405.5,832.8 404.0,835.0 C402.5,837.2 398.7,838.8 396.0,839.0 C393.3,839.2 389.5,838.2 388.0,836.0 C386.5,833.8 386.7,829.0 387.0,826.0 C387.3,823.0 387.8,819.5 390.0,818.0 Z" fill="#f7df20"/>
<path d="M360.0,845.0 C361.5,843.3 366.6,843.2 370.0,843.0 C373.4,842.8 378.7,842.3 380.2,843.5 C381.7,844.7 380.7,848.1 379.0,850.0 C377.3,851.9 373.0,854.4 370.0,854.9 C367.0,855.4 362.7,854.6 361.0,853.0 C359.3,851.4 358.5,846.7 360.0,845.0 Z" fill="#eea414"/>
<path d="M295.0,818.0 C295.8,815.0 299.0,812.5 302.0,811.0 C305.0,809.5 309.8,809.1 313.0,809.3 C316.2,809.5 319.4,809.9 321.0,812.0 C322.6,814.1 323.2,819.0 322.7,822.0 C322.2,825.0 320.8,828.3 318.0,830.0 C315.2,831.7 309.5,832.3 306.0,832.1 C302.5,831.9 298.8,831.4 297.0,829.0 C295.2,826.6 294.2,821.0 295.0,818.0 Z" fill="#f2a616"/>
<path d="M333.0,815.0 C334.2,813.4 337.2,813.0 339.0,813.5 C340.8,814.0 343.1,815.6 344.0,818.0 C344.9,820.4 345.4,825.4 344.7,828.0 C344.0,830.6 341.8,833.3 340.0,833.8 C338.2,834.3 335.3,832.8 334.0,831.0 C332.7,829.2 332.2,825.7 332.0,823.0 C331.8,820.3 331.8,816.6 333.0,815.0 Z" fill="#f2a616"/>
</g>
<circle cx="363.3" cy="816.9" r="1.6" fill="#1aa0a0"/>
</svg></body></html>
